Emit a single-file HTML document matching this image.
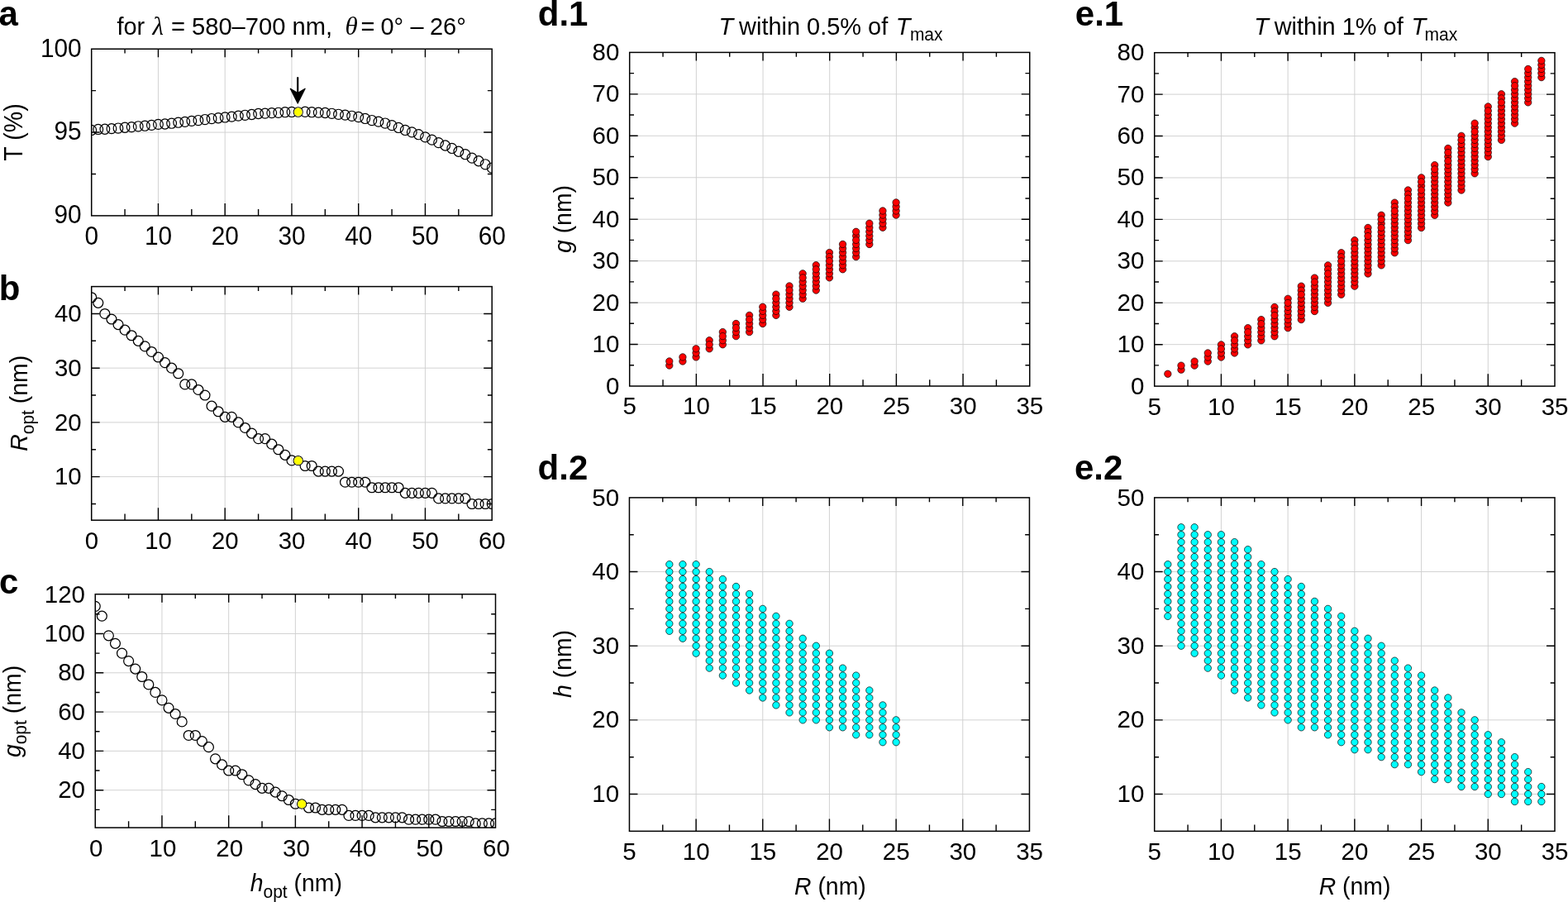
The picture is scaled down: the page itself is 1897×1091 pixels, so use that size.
<!DOCTYPE html>
<html lang="en">
<head>
<meta charset="utf-8">
<title>Figure</title>
<style>html,body{margin:0;padding:0;background:#fff}body{width:1897px;height:1091px;overflow:hidden}svg{display:block}</style>
</head>
<body>
<svg width="1897" height="1091" viewBox="0 0 1897 1091" font-family='"Liberation Sans", sans-serif' fill="#000">
<rect width="1897" height="1091" fill="#fff"/>
<defs>
<clipPath id="ca"><rect x="110.7" y="59.25" width="484.5" height="201.65"/></clipPath>
<clipPath id="cb"><rect x="110.7" y="346.6" width="484.5" height="282.6"/></clipPath>
<clipPath id="cc"><rect x="115.25" y="718.7" width="484.25" height="282.4"/></clipPath>
</defs>
<path d="M191.45 59.25V260.9M272.2 59.25V260.9M352.95 59.25V260.9M433.7 59.25V260.9M514.45 59.25V260.9M110.7 160.07H595.2" stroke="#d0d0d0" stroke-width="0.95" fill="none"/>
<g clip-path="url(#ca)">
<g fill="none" stroke="#000" stroke-width="1.2">
<ellipse cx="110.7" cy="157.45" rx="5.85" ry="6.05"/>
<ellipse cx="118.78" cy="156.45" rx="5.85" ry="6.05"/>
<ellipse cx="126.85" cy="156.24" rx="5.85" ry="6.05"/>
<ellipse cx="134.93" cy="155.64" rx="5.85" ry="6.05"/>
<ellipse cx="143" cy="155.03" rx="5.85" ry="6.05"/>
<ellipse cx="151.07" cy="154.23" rx="5.85" ry="6.05"/>
<ellipse cx="159.15" cy="153.62" rx="5.85" ry="6.05"/>
<ellipse cx="167.23" cy="152.82" rx="5.85" ry="6.05"/>
<ellipse cx="175.3" cy="152.21" rx="5.85" ry="6.05"/>
<ellipse cx="183.38" cy="151.4" rx="5.85" ry="6.05"/>
<ellipse cx="191.45" cy="150.4" rx="5.85" ry="6.05"/>
<ellipse cx="199.53" cy="149.99" rx="5.85" ry="6.05"/>
<ellipse cx="207.6" cy="149.19" rx="5.85" ry="6.05"/>
<ellipse cx="215.68" cy="148.18" rx="5.85" ry="6.05"/>
<ellipse cx="223.75" cy="147.37" rx="5.85" ry="6.05"/>
<ellipse cx="231.83" cy="146.36" rx="5.85" ry="6.05"/>
<ellipse cx="239.9" cy="145.56" rx="5.85" ry="6.05"/>
<ellipse cx="247.98" cy="144.55" rx="5.85" ry="6.05"/>
<ellipse cx="256.05" cy="143.54" rx="5.85" ry="6.05"/>
<ellipse cx="264.12" cy="142.73" rx="5.85" ry="6.05"/>
<ellipse cx="272.2" cy="141.93" rx="5.85" ry="6.05"/>
<ellipse cx="280.28" cy="141.12" rx="5.85" ry="6.05"/>
<ellipse cx="288.35" cy="140.11" rx="5.85" ry="6.05"/>
<ellipse cx="296.43" cy="139.31" rx="5.85" ry="6.05"/>
<ellipse cx="304.5" cy="138.5" rx="5.85" ry="6.05"/>
<ellipse cx="312.58" cy="137.49" rx="5.85" ry="6.05"/>
<ellipse cx="320.65" cy="137.09" rx="5.85" ry="6.05"/>
<ellipse cx="328.73" cy="136.58" rx="5.85" ry="6.05"/>
<ellipse cx="336.8" cy="136.28" rx="5.85" ry="6.05"/>
<ellipse cx="344.88" cy="135.68" rx="5.85" ry="6.05"/>
<ellipse cx="352.95" cy="135.47" rx="5.85" ry="6.05"/>
<ellipse cx="369.1" cy="135.27" rx="5.85" ry="6.05"/>
<ellipse cx="377.18" cy="135.68" rx="5.85" ry="6.05"/>
<ellipse cx="385.25" cy="136.08" rx="5.85" ry="6.05"/>
<ellipse cx="393.33" cy="136.48" rx="5.85" ry="6.05"/>
<ellipse cx="401.4" cy="137.29" rx="5.85" ry="6.05"/>
<ellipse cx="409.48" cy="138.3" rx="5.85" ry="6.05"/>
<ellipse cx="417.55" cy="139.1" rx="5.85" ry="6.05"/>
<ellipse cx="425.63" cy="140.31" rx="5.85" ry="6.05"/>
<ellipse cx="433.7" cy="141.52" rx="5.85" ry="6.05"/>
<ellipse cx="441.78" cy="143.44" rx="5.85" ry="6.05"/>
<ellipse cx="449.85" cy="145.56" rx="5.85" ry="6.05"/>
<ellipse cx="457.93" cy="147.17" rx="5.85" ry="6.05"/>
<ellipse cx="466" cy="149.06" rx="5.85" ry="6.05"/>
<ellipse cx="474.08" cy="151.61" rx="5.85" ry="6.05"/>
<ellipse cx="482.15" cy="154.43" rx="5.85" ry="6.05"/>
<ellipse cx="490.23" cy="157.45" rx="5.85" ry="6.05"/>
<ellipse cx="498.3" cy="159.87" rx="5.85" ry="6.05"/>
<ellipse cx="506.38" cy="162.7" rx="5.85" ry="6.05"/>
<ellipse cx="514.45" cy="165.92" rx="5.85" ry="6.05"/>
<ellipse cx="522.53" cy="169.15" rx="5.85" ry="6.05"/>
<ellipse cx="530.6" cy="172.58" rx="5.85" ry="6.05"/>
<ellipse cx="538.68" cy="176.01" rx="5.85" ry="6.05"/>
<ellipse cx="546.75" cy="179.43" rx="5.85" ry="6.05"/>
<ellipse cx="554.83" cy="183.26" rx="5.85" ry="6.05"/>
<ellipse cx="562.9" cy="186.69" rx="5.85" ry="6.05"/>
<ellipse cx="570.98" cy="191.13" rx="5.85" ry="6.05"/>
<ellipse cx="579.05" cy="194.76" rx="5.85" ry="6.05"/>
<ellipse cx="587.12" cy="198.79" rx="5.85" ry="6.05"/>
<ellipse cx="595.2" cy="203.03" rx="5.85" ry="6.05"/>
</g>
<ellipse cx="360.73" cy="135.52" rx="5.55" ry="5.75" fill="#fff" stroke="#000" stroke-width="1.05"/>
<ellipse cx="360.73" cy="135.52" rx="4.85" ry="5.05" fill="#ffff00"/>
</g>
<path d="M191.45 260.9v-14.9M191.45 59.25v10M272.2 260.9v-14.9M272.2 59.25v10M352.95 260.9v-14.9M352.95 59.25v10M433.7 260.9v-14.9M433.7 59.25v10M514.45 260.9v-14.9M514.45 59.25v10M151.07 260.9v-7.8M151.07 59.25v5.3M231.83 260.9v-7.8M231.83 59.25v5.3M312.58 260.9v-7.8M312.58 59.25v5.3M393.33 260.9v-7.8M393.33 59.25v5.3M474.08 260.9v-7.8M474.08 59.25v5.3M554.83 260.9v-7.8M554.83 59.25v5.3M110.7 160.07h10M595.2 160.07h-10M110.7 210.49h5.3M595.2 210.49h-5.3M110.7 109.66h5.3M595.2 109.66h-5.3" stroke="#000" stroke-width="1.4" fill="none"/>
<rect x="110.7" y="59.25" width="484.5" height="201.65" fill="none" stroke="#000" stroke-width="1.5"/>
<text transform="translate(110.8 295.8) scale(1 1.03)" text-anchor="middle" font-size="29.8">0</text>
<text transform="translate(191.55 295.8) scale(1 1.03)" text-anchor="middle" font-size="29.8">10</text>
<text transform="translate(272.3 295.8) scale(1 1.03)" text-anchor="middle" font-size="29.8">20</text>
<text transform="translate(353.05 295.8) scale(1 1.03)" text-anchor="middle" font-size="29.8">30</text>
<text transform="translate(433.8 295.8) scale(1 1.03)" text-anchor="middle" font-size="29.8">40</text>
<text transform="translate(514.55 295.8) scale(1 1.03)" text-anchor="middle" font-size="29.8">50</text>
<text transform="translate(595.3 295.8) scale(1 1.03)" text-anchor="middle" font-size="29.8">60</text>
<text transform="translate(98.7 270.2) scale(1 1.03)" text-anchor="end" font-size="29.8">90</text>
<text transform="translate(98.7 169.38) scale(1 1.03)" text-anchor="end" font-size="29.8">95</text>
<text transform="translate(98.7 68.55) scale(1 1.03)" text-anchor="end" font-size="29.8">100</text>
<path d="M191.45 346.6V629.2M272.2 346.6V629.2M352.95 346.6V629.2M433.7 346.6V629.2M514.45 346.6V629.2M110.7 576.62H595.2M110.7 510.9H595.2M110.7 445.18H595.2M110.7 379.46H595.2" stroke="#d0d0d0" stroke-width="0.95" fill="none"/>
<g clip-path="url(#cb)">
<g fill="none" stroke="#000" stroke-width="1.25">
<ellipse cx="110.7" cy="359.74" rx="5.95" ry="5.95"/>
<ellipse cx="118.78" cy="366.32" rx="5.95" ry="5.95"/>
<ellipse cx="126.85" cy="379.46" rx="5.95" ry="5.95"/>
<ellipse cx="134.93" cy="386.03" rx="5.95" ry="5.95"/>
<ellipse cx="143" cy="392.6" rx="5.95" ry="5.95"/>
<ellipse cx="151.07" cy="399.18" rx="5.95" ry="5.95"/>
<ellipse cx="159.15" cy="405.75" rx="5.95" ry="5.95"/>
<ellipse cx="167.23" cy="412.32" rx="5.95" ry="5.95"/>
<ellipse cx="175.3" cy="418.89" rx="5.95" ry="5.95"/>
<ellipse cx="183.38" cy="425.47" rx="5.95" ry="5.95"/>
<ellipse cx="191.45" cy="432.04" rx="5.95" ry="5.95"/>
<ellipse cx="199.53" cy="438.61" rx="5.95" ry="5.95"/>
<ellipse cx="207.6" cy="445.18" rx="5.95" ry="5.95"/>
<ellipse cx="215.68" cy="451.75" rx="5.95" ry="5.95"/>
<ellipse cx="223.75" cy="464.9" rx="5.95" ry="5.95"/>
<ellipse cx="231.83" cy="464.9" rx="5.95" ry="5.95"/>
<ellipse cx="239.9" cy="471.47" rx="5.95" ry="5.95"/>
<ellipse cx="247.98" cy="478.04" rx="5.95" ry="5.95"/>
<ellipse cx="256.05" cy="491.19" rx="5.95" ry="5.95"/>
<ellipse cx="264.12" cy="497.76" rx="5.95" ry="5.95"/>
<ellipse cx="272.2" cy="504.33" rx="5.95" ry="5.95"/>
<ellipse cx="280.28" cy="504.33" rx="5.95" ry="5.95"/>
<ellipse cx="288.35" cy="510.9" rx="5.95" ry="5.95"/>
<ellipse cx="296.43" cy="517.47" rx="5.95" ry="5.95"/>
<ellipse cx="304.5" cy="524.05" rx="5.95" ry="5.95"/>
<ellipse cx="312.58" cy="530.62" rx="5.95" ry="5.95"/>
<ellipse cx="320.65" cy="530.62" rx="5.95" ry="5.95"/>
<ellipse cx="328.73" cy="537.19" rx="5.95" ry="5.95"/>
<ellipse cx="336.8" cy="543.76" rx="5.95" ry="5.95"/>
<ellipse cx="344.88" cy="550.33" rx="5.95" ry="5.95"/>
<ellipse cx="352.95" cy="556.91" rx="5.95" ry="5.95"/>
<ellipse cx="369.1" cy="563.48" rx="5.95" ry="5.95"/>
<ellipse cx="377.18" cy="563.48" rx="5.95" ry="5.95"/>
<ellipse cx="385.25" cy="570.05" rx="5.95" ry="5.95"/>
<ellipse cx="393.33" cy="570.05" rx="5.95" ry="5.95"/>
<ellipse cx="401.4" cy="570.05" rx="5.95" ry="5.95"/>
<ellipse cx="409.48" cy="570.05" rx="5.95" ry="5.95"/>
<ellipse cx="417.55" cy="583.2" rx="5.95" ry="5.95"/>
<ellipse cx="425.63" cy="583.2" rx="5.95" ry="5.95"/>
<ellipse cx="433.7" cy="583.2" rx="5.95" ry="5.95"/>
<ellipse cx="441.78" cy="583.2" rx="5.95" ry="5.95"/>
<ellipse cx="449.85" cy="589.77" rx="5.95" ry="5.95"/>
<ellipse cx="457.93" cy="589.77" rx="5.95" ry="5.95"/>
<ellipse cx="466" cy="589.77" rx="5.95" ry="5.95"/>
<ellipse cx="474.08" cy="589.77" rx="5.95" ry="5.95"/>
<ellipse cx="482.15" cy="589.77" rx="5.95" ry="5.95"/>
<ellipse cx="490.23" cy="596.34" rx="5.95" ry="5.95"/>
<ellipse cx="498.3" cy="596.34" rx="5.95" ry="5.95"/>
<ellipse cx="506.38" cy="596.34" rx="5.95" ry="5.95"/>
<ellipse cx="514.45" cy="596.34" rx="5.95" ry="5.95"/>
<ellipse cx="522.53" cy="596.34" rx="5.95" ry="5.95"/>
<ellipse cx="530.6" cy="602.91" rx="5.95" ry="5.95"/>
<ellipse cx="538.68" cy="602.91" rx="5.95" ry="5.95"/>
<ellipse cx="546.75" cy="602.91" rx="5.95" ry="5.95"/>
<ellipse cx="554.83" cy="602.91" rx="5.95" ry="5.95"/>
<ellipse cx="562.9" cy="602.91" rx="5.95" ry="5.95"/>
<ellipse cx="570.98" cy="609.48" rx="5.95" ry="5.95"/>
<ellipse cx="579.05" cy="609.48" rx="5.95" ry="5.95"/>
<ellipse cx="587.12" cy="609.48" rx="5.95" ry="5.95"/>
<ellipse cx="595.2" cy="609.48" rx="5.95" ry="5.95"/>
</g>
<ellipse cx="360.73" cy="557.16" rx="5.65" ry="5.65" fill="#fff" stroke="#000" stroke-width="1.05"/>
<ellipse cx="360.73" cy="557.16" rx="4.95" ry="4.95" fill="#ffff00"/>
</g>
<path d="M191.45 629.2v-14.9M191.45 346.6v10M272.2 629.2v-14.9M272.2 346.6v10M352.95 629.2v-14.9M352.95 346.6v10M433.7 629.2v-14.9M433.7 346.6v10M514.45 629.2v-14.9M514.45 346.6v10M151.07 629.2v-7.8M151.07 346.6v5.3M231.83 629.2v-7.8M231.83 346.6v5.3M312.58 629.2v-7.8M312.58 346.6v5.3M393.33 629.2v-7.8M393.33 346.6v5.3M474.08 629.2v-7.8M474.08 346.6v5.3M554.83 629.2v-7.8M554.83 346.6v5.3M110.7 576.62h10M595.2 576.62h-10M110.7 510.9h10M595.2 510.9h-10M110.7 445.18h10M595.2 445.18h-10M110.7 379.46h10M595.2 379.46h-10M110.7 609.48h5.3M595.2 609.48h-5.3M110.7 543.76h5.3M595.2 543.76h-5.3M110.7 478.04h5.3M595.2 478.04h-5.3M110.7 412.32h5.3M595.2 412.32h-5.3" stroke="#000" stroke-width="1.4" fill="none"/>
<rect x="110.7" y="346.6" width="484.5" height="282.6" fill="none" stroke="#000" stroke-width="1.5"/>
<text transform="translate(110.8 663.6) scale(1 1.035)" text-anchor="middle" font-size="29.4">0</text>
<text transform="translate(191.55 663.6) scale(1 1.035)" text-anchor="middle" font-size="29.4">10</text>
<text transform="translate(272.3 663.6) scale(1 1.035)" text-anchor="middle" font-size="29.4">20</text>
<text transform="translate(353.05 663.6) scale(1 1.035)" text-anchor="middle" font-size="29.4">30</text>
<text transform="translate(433.8 663.6) scale(1 1.035)" text-anchor="middle" font-size="29.4">40</text>
<text transform="translate(514.55 663.6) scale(1 1.035)" text-anchor="middle" font-size="29.4">50</text>
<text transform="translate(595.3 663.6) scale(1 1.035)" text-anchor="middle" font-size="29.4">60</text>
<text transform="translate(98.7 586.22) scale(1 1.035)" text-anchor="end" font-size="29.4">10</text>
<text transform="translate(98.7 520.5) scale(1 1.035)" text-anchor="end" font-size="29.4">20</text>
<text transform="translate(98.7 454.78) scale(1 1.035)" text-anchor="end" font-size="29.4">30</text>
<text transform="translate(98.7 389.06) scale(1 1.035)" text-anchor="end" font-size="29.4">40</text>
<path d="M195.96 718.7V1001.1M276.67 718.7V1001.1M357.38 718.7V1001.1M438.08 718.7V1001.1M518.79 718.7V1001.1M115.25 955.69H599.5M115.25 908.39H599.5M115.25 861.08H599.5M115.25 813.78H599.5M115.25 766.48H599.5" stroke="#d0d0d0" stroke-width="0.95" fill="none"/>
<g clip-path="url(#cc)">
<g fill="none" stroke="#000" stroke-width="1.25">
<ellipse cx="115.25" cy="733.36" rx="5.95" ry="5.95"/>
<ellipse cx="123.32" cy="745.19" rx="5.95" ry="5.95"/>
<ellipse cx="131.39" cy="768.84" rx="5.95" ry="5.95"/>
<ellipse cx="139.46" cy="778.3" rx="5.95" ry="5.95"/>
<ellipse cx="147.53" cy="790.13" rx="5.95" ry="5.95"/>
<ellipse cx="155.6" cy="799.59" rx="5.95" ry="5.95"/>
<ellipse cx="163.68" cy="809.05" rx="5.95" ry="5.95"/>
<ellipse cx="171.75" cy="818.51" rx="5.95" ry="5.95"/>
<ellipse cx="179.82" cy="827.97" rx="5.95" ry="5.95"/>
<ellipse cx="187.89" cy="837.43" rx="5.95" ry="5.95"/>
<ellipse cx="195.96" cy="846.89" rx="5.95" ry="5.95"/>
<ellipse cx="204.03" cy="856.35" rx="5.95" ry="5.95"/>
<ellipse cx="212.1" cy="863.45" rx="5.95" ry="5.95"/>
<ellipse cx="220.17" cy="872.91" rx="5.95" ry="5.95"/>
<ellipse cx="228.24" cy="889.46" rx="5.95" ry="5.95"/>
<ellipse cx="236.31" cy="889.46" rx="5.95" ry="5.95"/>
<ellipse cx="244.38" cy="896.56" rx="5.95" ry="5.95"/>
<ellipse cx="252.45" cy="903.66" rx="5.95" ry="5.95"/>
<ellipse cx="260.52" cy="917.85" rx="5.95" ry="5.95"/>
<ellipse cx="268.6" cy="924.94" rx="5.95" ry="5.95"/>
<ellipse cx="276.67" cy="932.04" rx="5.95" ry="5.95"/>
<ellipse cx="284.74" cy="932.04" rx="5.95" ry="5.95"/>
<ellipse cx="292.81" cy="936.77" rx="5.95" ry="5.95"/>
<ellipse cx="300.88" cy="943.86" rx="5.95" ry="5.95"/>
<ellipse cx="308.95" cy="948.59" rx="5.95" ry="5.95"/>
<ellipse cx="317.02" cy="953.32" rx="5.95" ry="5.95"/>
<ellipse cx="325.09" cy="953.32" rx="5.95" ry="5.95"/>
<ellipse cx="333.16" cy="958.05" rx="5.95" ry="5.95"/>
<ellipse cx="341.23" cy="962.78" rx="5.95" ry="5.95"/>
<ellipse cx="349.3" cy="967.51" rx="5.95" ry="5.95"/>
<ellipse cx="357.38" cy="972.25" rx="5.95" ry="5.95"/>
<ellipse cx="373.52" cy="976.98" rx="5.95" ry="5.95"/>
<ellipse cx="381.59" cy="976.98" rx="5.95" ry="5.95"/>
<ellipse cx="389.66" cy="979.34" rx="5.95" ry="5.95"/>
<ellipse cx="397.73" cy="979.34" rx="5.95" ry="5.95"/>
<ellipse cx="405.8" cy="979.34" rx="5.95" ry="5.95"/>
<ellipse cx="413.87" cy="979.34" rx="5.95" ry="5.95"/>
<ellipse cx="421.94" cy="986.44" rx="5.95" ry="5.95"/>
<ellipse cx="430.01" cy="986.44" rx="5.95" ry="5.95"/>
<ellipse cx="438.08" cy="986.44" rx="5.95" ry="5.95"/>
<ellipse cx="446.15" cy="986.44" rx="5.95" ry="5.95"/>
<ellipse cx="454.22" cy="988.8" rx="5.95" ry="5.95"/>
<ellipse cx="462.3" cy="988.8" rx="5.95" ry="5.95"/>
<ellipse cx="470.37" cy="988.8" rx="5.95" ry="5.95"/>
<ellipse cx="478.44" cy="988.8" rx="5.95" ry="5.95"/>
<ellipse cx="486.51" cy="988.8" rx="5.95" ry="5.95"/>
<ellipse cx="494.58" cy="991.17" rx="5.95" ry="5.95"/>
<ellipse cx="502.65" cy="991.17" rx="5.95" ry="5.95"/>
<ellipse cx="510.72" cy="991.17" rx="5.95" ry="5.95"/>
<ellipse cx="518.79" cy="991.17" rx="5.95" ry="5.95"/>
<ellipse cx="526.86" cy="991.17" rx="5.95" ry="5.95"/>
<ellipse cx="534.93" cy="993.53" rx="5.95" ry="5.95"/>
<ellipse cx="543" cy="993.53" rx="5.95" ry="5.95"/>
<ellipse cx="551.08" cy="993.53" rx="5.95" ry="5.95"/>
<ellipse cx="559.15" cy="993.53" rx="5.95" ry="5.95"/>
<ellipse cx="567.22" cy="993.53" rx="5.95" ry="5.95"/>
<ellipse cx="575.29" cy="995.9" rx="5.95" ry="5.95"/>
<ellipse cx="583.36" cy="995.9" rx="5.95" ry="5.95"/>
<ellipse cx="591.43" cy="995.9" rx="5.95" ry="5.95"/>
<ellipse cx="599.5" cy="995.9" rx="5.95" ry="5.95"/>
</g>
<ellipse cx="365.15" cy="972.5" rx="5.65" ry="5.65" fill="#fff" stroke="#000" stroke-width="1.05"/>
<ellipse cx="365.15" cy="972.5" rx="4.95" ry="4.95" fill="#ffff00"/>
</g>
<path d="M195.96 1001.1v-14.9M195.96 718.7v10M276.67 1001.1v-14.9M276.67 718.7v10M357.38 1001.1v-14.9M357.38 718.7v10M438.08 1001.1v-14.9M438.08 718.7v10M518.79 1001.1v-14.9M518.79 718.7v10M155.6 1001.1v-7.8M155.6 718.7v5.3M236.31 1001.1v-7.8M236.31 718.7v5.3M317.02 1001.1v-7.8M317.02 718.7v5.3M397.73 1001.1v-7.8M397.73 718.7v5.3M478.44 1001.1v-7.8M478.44 718.7v5.3M559.15 1001.1v-7.8M559.15 718.7v5.3M115.25 955.69h10M599.5 955.69h-10M115.25 908.39h10M599.5 908.39h-10M115.25 861.08h10M599.5 861.08h-10M115.25 813.78h10M599.5 813.78h-10M115.25 766.48h10M599.5 766.48h-10M115.25 979.34h5.3M599.5 979.34h-5.3M115.25 932.04h5.3M599.5 932.04h-5.3M115.25 884.73h5.3M599.5 884.73h-5.3M115.25 837.43h5.3M599.5 837.43h-5.3M115.25 790.13h5.3M599.5 790.13h-5.3M115.25 742.82h5.3M599.5 742.82h-5.3" stroke="#000" stroke-width="1.4" fill="none"/>
<rect x="115.25" y="718.7" width="484.25" height="282.4" fill="none" stroke="#000" stroke-width="1.5"/>
<text transform="translate(116.25 1035.7) scale(1 1.02)" text-anchor="middle" font-size="29.5">0</text>
<text transform="translate(196.96 1035.7) scale(1 1.02)" text-anchor="middle" font-size="29.5">10</text>
<text transform="translate(277.67 1035.7) scale(1 1.02)" text-anchor="middle" font-size="29.5">20</text>
<text transform="translate(358.38 1035.7) scale(1 1.02)" text-anchor="middle" font-size="29.5">30</text>
<text transform="translate(439.08 1035.7) scale(1 1.02)" text-anchor="middle" font-size="29.5">40</text>
<text transform="translate(519.79 1035.7) scale(1 1.02)" text-anchor="middle" font-size="29.5">50</text>
<text transform="translate(600.5 1035.7) scale(1 1.02)" text-anchor="middle" font-size="29.5">60</text>
<text transform="translate(102.95 965.29) scale(1 1.02)" text-anchor="end" font-size="29.5">20</text>
<text transform="translate(102.95 917.99) scale(1 1.02)" text-anchor="end" font-size="29.5">40</text>
<text transform="translate(102.95 870.68) scale(1 1.02)" text-anchor="end" font-size="29.5">60</text>
<text transform="translate(102.95 823.38) scale(1 1.02)" text-anchor="end" font-size="29.5">80</text>
<text transform="translate(102.95 776.08) scale(1 1.02)" text-anchor="end" font-size="29.5">100</text>
<text transform="translate(102.95 728.77) scale(1 1.02)" text-anchor="end" font-size="29.5">120</text>
<path d="M842.38 63.4V467M923.05 63.4V467M1003.73 63.4V467M1084.4 63.4V467M1165.08 63.4V467M761.7 416.55H1245.75M761.7 366.1H1245.75M761.7 315.65H1245.75M761.7 265.2H1245.75M761.7 214.75H1245.75M761.7 164.3H1245.75M761.7 113.85H1245.75" stroke="#d0d0d0" stroke-width="0.95" fill="none"/>
<g fill="#ff0000" stroke="#000" stroke-width="0.7">
<circle cx="809.81" cy="442.03" r="4.18"/>
<circle cx="809.81" cy="436.98" r="4.18"/>
<circle cx="825.94" cy="436.98" r="4.18"/>
<circle cx="825.94" cy="431.92" r="4.18"/>
<circle cx="842.08" cy="431.92" r="4.18"/>
<circle cx="842.08" cy="426.87" r="4.18"/>
<circle cx="842.08" cy="421.81" r="4.18"/>
<circle cx="858.21" cy="421.81" r="4.18"/>
<circle cx="858.21" cy="411.71" r="4.18"/>
<circle cx="858.21" cy="416.76" r="4.18"/>
<circle cx="874.35" cy="416.76" r="4.18"/>
<circle cx="874.35" cy="411.71" r="4.18"/>
<circle cx="874.35" cy="401.6" r="4.18"/>
<circle cx="874.35" cy="406.65" r="4.18"/>
<circle cx="890.48" cy="406.65" r="4.18"/>
<circle cx="890.48" cy="401.6" r="4.18"/>
<circle cx="890.48" cy="391.49" r="4.18"/>
<circle cx="890.48" cy="396.54" r="4.18"/>
<circle cx="906.62" cy="401.6" r="4.18"/>
<circle cx="906.62" cy="396.54" r="4.18"/>
<circle cx="906.62" cy="391.49" r="4.18"/>
<circle cx="906.62" cy="381.38" r="4.18"/>
<circle cx="906.62" cy="386.44" r="4.18"/>
<circle cx="922.75" cy="391.49" r="4.18"/>
<circle cx="922.75" cy="386.44" r="4.18"/>
<circle cx="922.75" cy="381.38" r="4.18"/>
<circle cx="922.75" cy="376.33" r="4.18"/>
<circle cx="922.75" cy="371.27" r="4.18"/>
<circle cx="938.88" cy="381.38" r="4.18"/>
<circle cx="938.88" cy="376.33" r="4.18"/>
<circle cx="938.88" cy="371.27" r="4.18"/>
<circle cx="938.88" cy="366.22" r="4.18"/>
<circle cx="938.88" cy="356.11" r="4.18"/>
<circle cx="938.88" cy="361.17" r="4.18"/>
<circle cx="955.02" cy="371.27" r="4.18"/>
<circle cx="955.02" cy="366.22" r="4.18"/>
<circle cx="955.02" cy="361.17" r="4.18"/>
<circle cx="955.02" cy="356.11" r="4.18"/>
<circle cx="955.02" cy="346" r="4.18"/>
<circle cx="955.02" cy="351.06" r="4.18"/>
<circle cx="971.16" cy="361.17" r="4.18"/>
<circle cx="971.16" cy="356.11" r="4.18"/>
<circle cx="971.16" cy="351.06" r="4.18"/>
<circle cx="971.16" cy="346" r="4.18"/>
<circle cx="971.16" cy="340.95" r="4.18"/>
<circle cx="971.16" cy="330.84" r="4.18"/>
<circle cx="971.16" cy="335.9" r="4.18"/>
<circle cx="987.29" cy="351.06" r="4.18"/>
<circle cx="987.29" cy="346" r="4.18"/>
<circle cx="987.29" cy="340.95" r="4.18"/>
<circle cx="987.29" cy="335.9" r="4.18"/>
<circle cx="987.29" cy="330.84" r="4.18"/>
<circle cx="987.29" cy="320.73" r="4.18"/>
<circle cx="987.29" cy="325.79" r="4.18"/>
<circle cx="1003.43" cy="335.9" r="4.18"/>
<circle cx="1003.43" cy="330.84" r="4.18"/>
<circle cx="1003.43" cy="325.79" r="4.18"/>
<circle cx="1003.43" cy="305.57" r="4.18"/>
<circle cx="1003.43" cy="320.73" r="4.18"/>
<circle cx="1003.43" cy="310.63" r="4.18"/>
<circle cx="1003.43" cy="315.68" r="4.18"/>
<circle cx="1019.56" cy="325.79" r="4.18"/>
<circle cx="1019.56" cy="320.73" r="4.18"/>
<circle cx="1019.56" cy="315.68" r="4.18"/>
<circle cx="1019.56" cy="310.63" r="4.18"/>
<circle cx="1019.56" cy="305.57" r="4.18"/>
<circle cx="1019.56" cy="300.52" r="4.18"/>
<circle cx="1019.56" cy="295.46" r="4.18"/>
<circle cx="1035.69" cy="310.63" r="4.18"/>
<circle cx="1035.69" cy="305.57" r="4.18"/>
<circle cx="1035.69" cy="300.52" r="4.18"/>
<circle cx="1035.69" cy="295.46" r="4.18"/>
<circle cx="1035.69" cy="285.36" r="4.18"/>
<circle cx="1035.69" cy="290.41" r="4.18"/>
<circle cx="1035.69" cy="280.3" r="4.18"/>
<circle cx="1051.83" cy="295.46" r="4.18"/>
<circle cx="1051.83" cy="290.41" r="4.18"/>
<circle cx="1051.83" cy="285.36" r="4.18"/>
<circle cx="1051.83" cy="280.3" r="4.18"/>
<circle cx="1051.83" cy="275.25" r="4.18"/>
<circle cx="1051.83" cy="270.19" r="4.18"/>
<circle cx="1067.96" cy="275.25" r="4.18"/>
<circle cx="1067.96" cy="270.19" r="4.18"/>
<circle cx="1067.96" cy="265.14" r="4.18"/>
<circle cx="1067.96" cy="260.09" r="4.18"/>
<circle cx="1067.96" cy="255.03" r="4.18"/>
<circle cx="1084.1" cy="260.09" r="4.18"/>
<circle cx="1084.1" cy="255.03" r="4.18"/>
<circle cx="1084.1" cy="249.98" r="4.18"/>
<circle cx="1084.1" cy="244.92" r="4.18"/>
</g>
<path d="M842.38 467v-14.9M842.38 63.4v10M923.05 467v-14.9M923.05 63.4v10M1003.73 467v-14.9M1003.73 63.4v10M1084.4 467v-14.9M1084.4 63.4v10M1165.08 467v-14.9M1165.08 63.4v10M802.04 467v-7.8M802.04 63.4v5.3M882.71 467v-7.8M882.71 63.4v5.3M963.39 467v-7.8M963.39 63.4v5.3M1044.06 467v-7.8M1044.06 63.4v5.3M1124.74 467v-7.8M1124.74 63.4v5.3M1205.41 467v-7.8M1205.41 63.4v5.3M761.7 416.55h10M1245.75 416.55h-10M761.7 366.1h10M1245.75 366.1h-10M761.7 315.65h10M1245.75 315.65h-10M761.7 265.2h10M1245.75 265.2h-10M761.7 214.75h10M1245.75 214.75h-10M761.7 164.3h10M1245.75 164.3h-10M761.7 113.85h10M1245.75 113.85h-10M761.7 441.77h5.3M1245.75 441.77h-5.3M761.7 391.32h5.3M1245.75 391.32h-5.3M761.7 340.88h5.3M1245.75 340.88h-5.3M761.7 290.42h5.3M1245.75 290.42h-5.3M761.7 239.97h5.3M1245.75 239.97h-5.3M761.7 189.52h5.3M1245.75 189.52h-5.3M761.7 139.07h5.3M1245.75 139.07h-5.3M761.7 88.62h5.3M1245.75 88.62h-5.3" stroke="#000" stroke-width="1.4" fill="none"/>
<rect x="761.7" y="63.4" width="484.05" height="403.6" fill="none" stroke="#000" stroke-width="1.5"/>
<text transform="translate(761.8 501.45) scale(1 1.03)" text-anchor="middle" font-size="29.5">5</text>
<text transform="translate(842.48 501.45) scale(1 1.03)" text-anchor="middle" font-size="29.5">10</text>
<text transform="translate(923.15 501.45) scale(1 1.03)" text-anchor="middle" font-size="29.5">15</text>
<text transform="translate(1003.83 501.45) scale(1 1.03)" text-anchor="middle" font-size="29.5">20</text>
<text transform="translate(1084.5 501.45) scale(1 1.03)" text-anchor="middle" font-size="29.5">25</text>
<text transform="translate(1165.17 501.45) scale(1 1.03)" text-anchor="middle" font-size="29.5">30</text>
<text transform="translate(1245.85 501.45) scale(1 1.03)" text-anchor="middle" font-size="29.5">35</text>
<text transform="translate(749.3 476.5) scale(1 1.03)" text-anchor="end" font-size="29.5">0</text>
<text transform="translate(749.3 426.05) scale(1 1.03)" text-anchor="end" font-size="29.5">10</text>
<text transform="translate(749.3 375.6) scale(1 1.03)" text-anchor="end" font-size="29.5">20</text>
<text transform="translate(749.3 325.15) scale(1 1.03)" text-anchor="end" font-size="29.5">30</text>
<text transform="translate(749.3 274.7) scale(1 1.03)" text-anchor="end" font-size="29.5">40</text>
<text transform="translate(749.3 224.25) scale(1 1.03)" text-anchor="end" font-size="29.5">50</text>
<text transform="translate(749.3 173.8) scale(1 1.03)" text-anchor="end" font-size="29.5">60</text>
<text transform="translate(749.3 123.35) scale(1 1.03)" text-anchor="end" font-size="29.5">70</text>
<text transform="translate(749.3 72.9) scale(1 1.03)" text-anchor="end" font-size="29.5">80</text>
<path d="M1477.42 63.7V467.1M1558.13 63.7V467.1M1638.85 63.7V467.1M1719.57 63.7V467.1M1800.28 63.7V467.1M1396.7 416.68H1881M1396.7 366.25H1881M1396.7 315.83H1881M1396.7 265.4H1881M1396.7 214.97H1881M1396.7 164.55H1881M1396.7 114.12H1881" stroke="#d0d0d0" stroke-width="0.95" fill="none"/>
<g fill="#ff0000" stroke="#000" stroke-width="0.7">
<circle cx="1412.84" cy="452.25" r="4.18"/>
<circle cx="1428.99" cy="447.19" r="4.18"/>
<circle cx="1428.99" cy="442.14" r="4.18"/>
<circle cx="1445.13" cy="442.14" r="4.18"/>
<circle cx="1445.13" cy="437.09" r="4.18"/>
<circle cx="1461.27" cy="437.09" r="4.18"/>
<circle cx="1461.27" cy="432.04" r="4.18"/>
<circle cx="1461.27" cy="426.99" r="4.18"/>
<circle cx="1477.42" cy="432.04" r="4.18"/>
<circle cx="1477.42" cy="426.99" r="4.18"/>
<circle cx="1477.42" cy="416.89" r="4.18"/>
<circle cx="1477.42" cy="421.94" r="4.18"/>
<circle cx="1493.56" cy="426.99" r="4.18"/>
<circle cx="1493.56" cy="421.94" r="4.18"/>
<circle cx="1493.56" cy="416.89" r="4.18"/>
<circle cx="1493.56" cy="406.78" r="4.18"/>
<circle cx="1493.56" cy="411.83" r="4.18"/>
<circle cx="1509.7" cy="416.89" r="4.18"/>
<circle cx="1509.7" cy="411.83" r="4.18"/>
<circle cx="1509.7" cy="406.78" r="4.18"/>
<circle cx="1509.7" cy="396.68" r="4.18"/>
<circle cx="1509.7" cy="401.73" r="4.18"/>
<circle cx="1525.85" cy="411.83" r="4.18"/>
<circle cx="1525.85" cy="406.78" r="4.18"/>
<circle cx="1525.85" cy="401.73" r="4.18"/>
<circle cx="1525.85" cy="396.68" r="4.18"/>
<circle cx="1525.85" cy="386.58" r="4.18"/>
<circle cx="1525.85" cy="391.63" r="4.18"/>
<circle cx="1541.99" cy="406.78" r="4.18"/>
<circle cx="1541.99" cy="401.73" r="4.18"/>
<circle cx="1541.99" cy="396.68" r="4.18"/>
<circle cx="1541.99" cy="391.63" r="4.18"/>
<circle cx="1541.99" cy="371.42" r="4.18"/>
<circle cx="1541.99" cy="386.58" r="4.18"/>
<circle cx="1541.99" cy="376.47" r="4.18"/>
<circle cx="1541.99" cy="381.52" r="4.18"/>
<circle cx="1558.13" cy="396.68" r="4.18"/>
<circle cx="1558.13" cy="391.63" r="4.18"/>
<circle cx="1558.13" cy="386.58" r="4.18"/>
<circle cx="1558.13" cy="381.52" r="4.18"/>
<circle cx="1558.13" cy="376.47" r="4.18"/>
<circle cx="1558.13" cy="371.42" r="4.18"/>
<circle cx="1558.13" cy="361.32" r="4.18"/>
<circle cx="1558.13" cy="366.37" r="4.18"/>
<circle cx="1574.28" cy="386.58" r="4.18"/>
<circle cx="1574.28" cy="381.52" r="4.18"/>
<circle cx="1574.28" cy="376.47" r="4.18"/>
<circle cx="1574.28" cy="371.42" r="4.18"/>
<circle cx="1574.28" cy="366.37" r="4.18"/>
<circle cx="1574.28" cy="346.16" r="4.18"/>
<circle cx="1574.28" cy="361.32" r="4.18"/>
<circle cx="1574.28" cy="351.22" r="4.18"/>
<circle cx="1574.28" cy="356.27" r="4.18"/>
<circle cx="1590.42" cy="376.47" r="4.18"/>
<circle cx="1590.42" cy="371.42" r="4.18"/>
<circle cx="1590.42" cy="366.37" r="4.18"/>
<circle cx="1590.42" cy="361.32" r="4.18"/>
<circle cx="1590.42" cy="356.27" r="4.18"/>
<circle cx="1590.42" cy="351.22" r="4.18"/>
<circle cx="1590.42" cy="346.16" r="4.18"/>
<circle cx="1590.42" cy="336.06" r="4.18"/>
<circle cx="1590.42" cy="341.11" r="4.18"/>
<circle cx="1606.56" cy="366.37" r="4.18"/>
<circle cx="1606.56" cy="361.32" r="4.18"/>
<circle cx="1606.56" cy="356.27" r="4.18"/>
<circle cx="1606.56" cy="351.22" r="4.18"/>
<circle cx="1606.56" cy="346.16" r="4.18"/>
<circle cx="1606.56" cy="341.11" r="4.18"/>
<circle cx="1606.56" cy="320.91" r="4.18"/>
<circle cx="1606.56" cy="336.06" r="4.18"/>
<circle cx="1606.56" cy="325.96" r="4.18"/>
<circle cx="1606.56" cy="331.01" r="4.18"/>
<circle cx="1622.71" cy="356.27" r="4.18"/>
<circle cx="1622.71" cy="351.22" r="4.18"/>
<circle cx="1622.71" cy="346.16" r="4.18"/>
<circle cx="1622.71" cy="341.11" r="4.18"/>
<circle cx="1622.71" cy="336.06" r="4.18"/>
<circle cx="1622.71" cy="331.01" r="4.18"/>
<circle cx="1622.71" cy="325.96" r="4.18"/>
<circle cx="1622.71" cy="305.75" r="4.18"/>
<circle cx="1622.71" cy="320.91" r="4.18"/>
<circle cx="1622.71" cy="310.8" r="4.18"/>
<circle cx="1622.71" cy="315.86" r="4.18"/>
<circle cx="1638.85" cy="346.16" r="4.18"/>
<circle cx="1638.85" cy="341.11" r="4.18"/>
<circle cx="1638.85" cy="336.06" r="4.18"/>
<circle cx="1638.85" cy="331.01" r="4.18"/>
<circle cx="1638.85" cy="325.96" r="4.18"/>
<circle cx="1638.85" cy="320.91" r="4.18"/>
<circle cx="1638.85" cy="315.86" r="4.18"/>
<circle cx="1638.85" cy="310.8" r="4.18"/>
<circle cx="1638.85" cy="290.6" r="4.18"/>
<circle cx="1638.85" cy="305.75" r="4.18"/>
<circle cx="1638.85" cy="295.65" r="4.18"/>
<circle cx="1638.85" cy="300.7" r="4.18"/>
<circle cx="1654.99" cy="331.01" r="4.18"/>
<circle cx="1654.99" cy="325.96" r="4.18"/>
<circle cx="1654.99" cy="320.91" r="4.18"/>
<circle cx="1654.99" cy="315.86" r="4.18"/>
<circle cx="1654.99" cy="310.8" r="4.18"/>
<circle cx="1654.99" cy="305.75" r="4.18"/>
<circle cx="1654.99" cy="300.7" r="4.18"/>
<circle cx="1654.99" cy="295.65" r="4.18"/>
<circle cx="1654.99" cy="275.44" r="4.18"/>
<circle cx="1654.99" cy="290.6" r="4.18"/>
<circle cx="1654.99" cy="280.49" r="4.18"/>
<circle cx="1654.99" cy="285.55" r="4.18"/>
<circle cx="1671.14" cy="320.91" r="4.18"/>
<circle cx="1671.14" cy="315.86" r="4.18"/>
<circle cx="1671.14" cy="310.8" r="4.18"/>
<circle cx="1671.14" cy="305.75" r="4.18"/>
<circle cx="1671.14" cy="300.7" r="4.18"/>
<circle cx="1671.14" cy="295.65" r="4.18"/>
<circle cx="1671.14" cy="290.6" r="4.18"/>
<circle cx="1671.14" cy="285.55" r="4.18"/>
<circle cx="1671.14" cy="280.49" r="4.18"/>
<circle cx="1671.14" cy="270.39" r="4.18"/>
<circle cx="1671.14" cy="260.29" r="4.18"/>
<circle cx="1671.14" cy="275.44" r="4.18"/>
<circle cx="1671.14" cy="265.34" r="4.18"/>
<circle cx="1687.28" cy="305.75" r="4.18"/>
<circle cx="1687.28" cy="300.7" r="4.18"/>
<circle cx="1687.28" cy="295.65" r="4.18"/>
<circle cx="1687.28" cy="290.6" r="4.18"/>
<circle cx="1687.28" cy="285.55" r="4.18"/>
<circle cx="1687.28" cy="280.49" r="4.18"/>
<circle cx="1687.28" cy="275.44" r="4.18"/>
<circle cx="1687.28" cy="270.39" r="4.18"/>
<circle cx="1687.28" cy="265.34" r="4.18"/>
<circle cx="1687.28" cy="245.13" r="4.18"/>
<circle cx="1687.28" cy="260.29" r="4.18"/>
<circle cx="1687.28" cy="250.19" r="4.18"/>
<circle cx="1687.28" cy="255.24" r="4.18"/>
<circle cx="1703.42" cy="290.6" r="4.18"/>
<circle cx="1703.42" cy="285.55" r="4.18"/>
<circle cx="1703.42" cy="280.49" r="4.18"/>
<circle cx="1703.42" cy="275.44" r="4.18"/>
<circle cx="1703.42" cy="270.39" r="4.18"/>
<circle cx="1703.42" cy="265.34" r="4.18"/>
<circle cx="1703.42" cy="260.29" r="4.18"/>
<circle cx="1703.42" cy="255.24" r="4.18"/>
<circle cx="1703.42" cy="250.19" r="4.18"/>
<circle cx="1703.42" cy="229.98" r="4.18"/>
<circle cx="1703.42" cy="245.13" r="4.18"/>
<circle cx="1703.42" cy="235.03" r="4.18"/>
<circle cx="1703.42" cy="240.08" r="4.18"/>
<circle cx="1719.57" cy="275.44" r="4.18"/>
<circle cx="1719.57" cy="270.39" r="4.18"/>
<circle cx="1719.57" cy="265.34" r="4.18"/>
<circle cx="1719.57" cy="260.29" r="4.18"/>
<circle cx="1719.57" cy="255.24" r="4.18"/>
<circle cx="1719.57" cy="250.19" r="4.18"/>
<circle cx="1719.57" cy="245.13" r="4.18"/>
<circle cx="1719.57" cy="240.08" r="4.18"/>
<circle cx="1719.57" cy="235.03" r="4.18"/>
<circle cx="1719.57" cy="224.93" r="4.18"/>
<circle cx="1719.57" cy="214.83" r="4.18"/>
<circle cx="1719.57" cy="229.98" r="4.18"/>
<circle cx="1719.57" cy="219.88" r="4.18"/>
<circle cx="1735.71" cy="260.29" r="4.18"/>
<circle cx="1735.71" cy="255.24" r="4.18"/>
<circle cx="1735.71" cy="250.19" r="4.18"/>
<circle cx="1735.71" cy="245.13" r="4.18"/>
<circle cx="1735.71" cy="240.08" r="4.18"/>
<circle cx="1735.71" cy="235.03" r="4.18"/>
<circle cx="1735.71" cy="229.98" r="4.18"/>
<circle cx="1735.71" cy="224.93" r="4.18"/>
<circle cx="1735.71" cy="219.88" r="4.18"/>
<circle cx="1735.71" cy="214.83" r="4.18"/>
<circle cx="1735.71" cy="209.77" r="4.18"/>
<circle cx="1735.71" cy="199.67" r="4.18"/>
<circle cx="1735.71" cy="204.72" r="4.18"/>
<circle cx="1751.85" cy="245.13" r="4.18"/>
<circle cx="1751.85" cy="240.08" r="4.18"/>
<circle cx="1751.85" cy="235.03" r="4.18"/>
<circle cx="1751.85" cy="229.98" r="4.18"/>
<circle cx="1751.85" cy="224.93" r="4.18"/>
<circle cx="1751.85" cy="219.88" r="4.18"/>
<circle cx="1751.85" cy="214.83" r="4.18"/>
<circle cx="1751.85" cy="209.77" r="4.18"/>
<circle cx="1751.85" cy="204.72" r="4.18"/>
<circle cx="1751.85" cy="199.67" r="4.18"/>
<circle cx="1751.85" cy="189.57" r="4.18"/>
<circle cx="1751.85" cy="179.46" r="4.18"/>
<circle cx="1751.85" cy="194.62" r="4.18"/>
<circle cx="1751.85" cy="184.52" r="4.18"/>
<circle cx="1768" cy="229.98" r="4.18"/>
<circle cx="1768" cy="224.93" r="4.18"/>
<circle cx="1768" cy="219.88" r="4.18"/>
<circle cx="1768" cy="214.83" r="4.18"/>
<circle cx="1768" cy="209.77" r="4.18"/>
<circle cx="1768" cy="204.72" r="4.18"/>
<circle cx="1768" cy="199.67" r="4.18"/>
<circle cx="1768" cy="194.62" r="4.18"/>
<circle cx="1768" cy="189.57" r="4.18"/>
<circle cx="1768" cy="184.52" r="4.18"/>
<circle cx="1768" cy="179.46" r="4.18"/>
<circle cx="1768" cy="174.41" r="4.18"/>
<circle cx="1768" cy="164.31" r="4.18"/>
<circle cx="1768" cy="169.36" r="4.18"/>
<circle cx="1784.14" cy="209.77" r="4.18"/>
<circle cx="1784.14" cy="204.72" r="4.18"/>
<circle cx="1784.14" cy="199.67" r="4.18"/>
<circle cx="1784.14" cy="194.62" r="4.18"/>
<circle cx="1784.14" cy="189.57" r="4.18"/>
<circle cx="1784.14" cy="184.52" r="4.18"/>
<circle cx="1784.14" cy="179.46" r="4.18"/>
<circle cx="1784.14" cy="174.41" r="4.18"/>
<circle cx="1784.14" cy="169.36" r="4.18"/>
<circle cx="1784.14" cy="164.31" r="4.18"/>
<circle cx="1784.14" cy="154.21" r="4.18"/>
<circle cx="1784.14" cy="159.26" r="4.18"/>
<circle cx="1784.14" cy="149.16" r="4.18"/>
<circle cx="1800.28" cy="189.57" r="4.18"/>
<circle cx="1800.28" cy="184.52" r="4.18"/>
<circle cx="1800.28" cy="179.46" r="4.18"/>
<circle cx="1800.28" cy="174.41" r="4.18"/>
<circle cx="1800.28" cy="169.36" r="4.18"/>
<circle cx="1800.28" cy="164.31" r="4.18"/>
<circle cx="1800.28" cy="159.26" r="4.18"/>
<circle cx="1800.28" cy="154.21" r="4.18"/>
<circle cx="1800.28" cy="149.16" r="4.18"/>
<circle cx="1800.28" cy="144.1" r="4.18"/>
<circle cx="1800.28" cy="139.05" r="4.18"/>
<circle cx="1800.28" cy="128.95" r="4.18"/>
<circle cx="1800.28" cy="134" r="4.18"/>
<circle cx="1816.43" cy="169.36" r="4.18"/>
<circle cx="1816.43" cy="164.31" r="4.18"/>
<circle cx="1816.43" cy="159.26" r="4.18"/>
<circle cx="1816.43" cy="154.21" r="4.18"/>
<circle cx="1816.43" cy="149.16" r="4.18"/>
<circle cx="1816.43" cy="144.1" r="4.18"/>
<circle cx="1816.43" cy="139.05" r="4.18"/>
<circle cx="1816.43" cy="134" r="4.18"/>
<circle cx="1816.43" cy="113.8" r="4.18"/>
<circle cx="1816.43" cy="128.95" r="4.18"/>
<circle cx="1816.43" cy="118.85" r="4.18"/>
<circle cx="1816.43" cy="123.9" r="4.18"/>
<circle cx="1832.57" cy="149.16" r="4.18"/>
<circle cx="1832.57" cy="144.1" r="4.18"/>
<circle cx="1832.57" cy="139.05" r="4.18"/>
<circle cx="1832.57" cy="134" r="4.18"/>
<circle cx="1832.57" cy="128.95" r="4.18"/>
<circle cx="1832.57" cy="123.9" r="4.18"/>
<circle cx="1832.57" cy="118.85" r="4.18"/>
<circle cx="1832.57" cy="113.8" r="4.18"/>
<circle cx="1832.57" cy="108.74" r="4.18"/>
<circle cx="1832.57" cy="98.64" r="4.18"/>
<circle cx="1832.57" cy="103.69" r="4.18"/>
<circle cx="1848.71" cy="123.9" r="4.18"/>
<circle cx="1848.71" cy="118.85" r="4.18"/>
<circle cx="1848.71" cy="113.8" r="4.18"/>
<circle cx="1848.71" cy="108.74" r="4.18"/>
<circle cx="1848.71" cy="103.69" r="4.18"/>
<circle cx="1848.71" cy="98.64" r="4.18"/>
<circle cx="1848.71" cy="93.59" r="4.18"/>
<circle cx="1848.71" cy="88.54" r="4.18"/>
<circle cx="1848.71" cy="83.49" r="4.18"/>
<circle cx="1864.86" cy="93.59" r="4.18"/>
<circle cx="1864.86" cy="88.54" r="4.18"/>
<circle cx="1864.86" cy="83.49" r="4.18"/>
<circle cx="1864.86" cy="78.43" r="4.18"/>
<circle cx="1864.86" cy="73.38" r="4.18"/>
</g>
<path d="M1477.42 467.1v-14.9M1477.42 63.7v10M1558.13 467.1v-14.9M1558.13 63.7v10M1638.85 467.1v-14.9M1638.85 63.7v10M1719.57 467.1v-14.9M1719.57 63.7v10M1800.28 467.1v-14.9M1800.28 63.7v10M1437.06 467.1v-7.8M1437.06 63.7v5.3M1517.78 467.1v-7.8M1517.78 63.7v5.3M1598.49 467.1v-7.8M1598.49 63.7v5.3M1679.21 467.1v-7.8M1679.21 63.7v5.3M1759.92 467.1v-7.8M1759.92 63.7v5.3M1840.64 467.1v-7.8M1840.64 63.7v5.3M1396.7 416.68h10M1881 416.68h-10M1396.7 366.25h10M1881 366.25h-10M1396.7 315.83h10M1881 315.83h-10M1396.7 265.4h10M1881 265.4h-10M1396.7 214.97h10M1881 214.97h-10M1396.7 164.55h10M1881 164.55h-10M1396.7 114.12h10M1881 114.12h-10M1396.7 441.89h5.3M1881 441.89h-5.3M1396.7 391.46h5.3M1881 391.46h-5.3M1396.7 341.04h5.3M1881 341.04h-5.3M1396.7 290.61h5.3M1881 290.61h-5.3M1396.7 240.19h5.3M1881 240.19h-5.3M1396.7 189.76h5.3M1881 189.76h-5.3M1396.7 139.34h5.3M1881 139.34h-5.3M1396.7 88.91h5.3M1881 88.91h-5.3" stroke="#000" stroke-width="1.4" fill="none"/>
<rect x="1396.7" y="63.7" width="484.3" height="403.4" fill="none" stroke="#000" stroke-width="1.5"/>
<text transform="translate(1396.8 501.55) scale(1 1.03)" text-anchor="middle" font-size="29.5">5</text>
<text transform="translate(1477.52 501.55) scale(1 1.03)" text-anchor="middle" font-size="29.5">10</text>
<text transform="translate(1558.23 501.55) scale(1 1.03)" text-anchor="middle" font-size="29.5">15</text>
<text transform="translate(1638.95 501.55) scale(1 1.03)" text-anchor="middle" font-size="29.5">20</text>
<text transform="translate(1719.67 501.55) scale(1 1.03)" text-anchor="middle" font-size="29.5">25</text>
<text transform="translate(1800.38 501.55) scale(1 1.03)" text-anchor="middle" font-size="29.5">30</text>
<text transform="translate(1881.1 501.55) scale(1 1.03)" text-anchor="middle" font-size="29.5">35</text>
<text transform="translate(1384.3 476.6) scale(1 1.03)" text-anchor="end" font-size="29.5">0</text>
<text transform="translate(1384.3 426.18) scale(1 1.03)" text-anchor="end" font-size="29.5">10</text>
<text transform="translate(1384.3 375.75) scale(1 1.03)" text-anchor="end" font-size="29.5">20</text>
<text transform="translate(1384.3 325.33) scale(1 1.03)" text-anchor="end" font-size="29.5">30</text>
<text transform="translate(1384.3 274.9) scale(1 1.03)" text-anchor="end" font-size="29.5">40</text>
<text transform="translate(1384.3 224.47) scale(1 1.03)" text-anchor="end" font-size="29.5">50</text>
<text transform="translate(1384.3 174.05) scale(1 1.03)" text-anchor="end" font-size="29.5">60</text>
<text transform="translate(1384.3 123.62) scale(1 1.03)" text-anchor="end" font-size="29.5">70</text>
<text transform="translate(1384.3 73.2) scale(1 1.03)" text-anchor="end" font-size="29.5">80</text>
<path d="M842.12 601.9V1005.35M922.78 601.9V1005.35M1003.45 601.9V1005.35M1084.12 601.9V1005.35M1164.78 601.9V1005.35M761.45 960.52H1245.45M761.45 870.87H1245.45M761.45 781.21H1245.45M761.45 691.56H1245.45" stroke="#d0d0d0" stroke-width="0.95" fill="none"/>
<g fill="#00ffff" stroke="#000" stroke-width="0.7">
<circle cx="809.85" cy="763.28" r="4.18"/>
<circle cx="809.85" cy="754.31" r="4.18"/>
<circle cx="809.85" cy="745.35" r="4.18"/>
<circle cx="809.85" cy="736.38" r="4.18"/>
<circle cx="809.85" cy="727.42" r="4.18"/>
<circle cx="809.85" cy="718.45" r="4.18"/>
<circle cx="809.85" cy="709.49" r="4.18"/>
<circle cx="809.85" cy="700.52" r="4.18"/>
<circle cx="809.85" cy="691.56" r="4.18"/>
<circle cx="809.85" cy="682.59" r="4.18"/>
<circle cx="825.98" cy="772.25" r="4.18"/>
<circle cx="825.98" cy="763.28" r="4.18"/>
<circle cx="825.98" cy="754.31" r="4.18"/>
<circle cx="825.98" cy="745.35" r="4.18"/>
<circle cx="825.98" cy="736.38" r="4.18"/>
<circle cx="825.98" cy="727.42" r="4.18"/>
<circle cx="825.98" cy="718.45" r="4.18"/>
<circle cx="825.98" cy="709.49" r="4.18"/>
<circle cx="825.98" cy="700.52" r="4.18"/>
<circle cx="825.98" cy="691.56" r="4.18"/>
<circle cx="825.98" cy="682.59" r="4.18"/>
<circle cx="842.12" cy="790.18" r="4.18"/>
<circle cx="842.12" cy="781.21" r="4.18"/>
<circle cx="842.12" cy="772.25" r="4.18"/>
<circle cx="842.12" cy="763.28" r="4.18"/>
<circle cx="842.12" cy="754.31" r="4.18"/>
<circle cx="842.12" cy="745.35" r="4.18"/>
<circle cx="842.12" cy="736.38" r="4.18"/>
<circle cx="842.12" cy="727.42" r="4.18"/>
<circle cx="842.12" cy="718.45" r="4.18"/>
<circle cx="842.12" cy="709.49" r="4.18"/>
<circle cx="842.12" cy="700.52" r="4.18"/>
<circle cx="842.12" cy="691.56" r="4.18"/>
<circle cx="842.12" cy="682.59" r="4.18"/>
<circle cx="858.25" cy="808.11" r="4.18"/>
<circle cx="858.25" cy="799.14" r="4.18"/>
<circle cx="858.25" cy="790.18" r="4.18"/>
<circle cx="858.25" cy="781.21" r="4.18"/>
<circle cx="858.25" cy="772.25" r="4.18"/>
<circle cx="858.25" cy="763.28" r="4.18"/>
<circle cx="858.25" cy="754.31" r="4.18"/>
<circle cx="858.25" cy="745.35" r="4.18"/>
<circle cx="858.25" cy="736.38" r="4.18"/>
<circle cx="858.25" cy="727.42" r="4.18"/>
<circle cx="858.25" cy="718.45" r="4.18"/>
<circle cx="858.25" cy="709.49" r="4.18"/>
<circle cx="858.25" cy="700.52" r="4.18"/>
<circle cx="858.25" cy="691.56" r="4.18"/>
<circle cx="874.38" cy="817.07" r="4.18"/>
<circle cx="874.38" cy="808.11" r="4.18"/>
<circle cx="874.38" cy="799.14" r="4.18"/>
<circle cx="874.38" cy="790.18" r="4.18"/>
<circle cx="874.38" cy="781.21" r="4.18"/>
<circle cx="874.38" cy="772.25" r="4.18"/>
<circle cx="874.38" cy="763.28" r="4.18"/>
<circle cx="874.38" cy="754.31" r="4.18"/>
<circle cx="874.38" cy="745.35" r="4.18"/>
<circle cx="874.38" cy="736.38" r="4.18"/>
<circle cx="874.38" cy="727.42" r="4.18"/>
<circle cx="874.38" cy="718.45" r="4.18"/>
<circle cx="874.38" cy="709.49" r="4.18"/>
<circle cx="874.38" cy="700.52" r="4.18"/>
<circle cx="890.52" cy="826.04" r="4.18"/>
<circle cx="890.52" cy="817.07" r="4.18"/>
<circle cx="890.52" cy="808.11" r="4.18"/>
<circle cx="890.52" cy="799.14" r="4.18"/>
<circle cx="890.52" cy="790.18" r="4.18"/>
<circle cx="890.52" cy="781.21" r="4.18"/>
<circle cx="890.52" cy="772.25" r="4.18"/>
<circle cx="890.52" cy="763.28" r="4.18"/>
<circle cx="890.52" cy="754.31" r="4.18"/>
<circle cx="890.52" cy="745.35" r="4.18"/>
<circle cx="890.52" cy="736.38" r="4.18"/>
<circle cx="890.52" cy="727.42" r="4.18"/>
<circle cx="890.52" cy="718.45" r="4.18"/>
<circle cx="890.52" cy="709.49" r="4.18"/>
<circle cx="906.65" cy="835" r="4.18"/>
<circle cx="906.65" cy="826.04" r="4.18"/>
<circle cx="906.65" cy="817.07" r="4.18"/>
<circle cx="906.65" cy="808.11" r="4.18"/>
<circle cx="906.65" cy="799.14" r="4.18"/>
<circle cx="906.65" cy="790.18" r="4.18"/>
<circle cx="906.65" cy="781.21" r="4.18"/>
<circle cx="906.65" cy="772.25" r="4.18"/>
<circle cx="906.65" cy="763.28" r="4.18"/>
<circle cx="906.65" cy="754.31" r="4.18"/>
<circle cx="906.65" cy="745.35" r="4.18"/>
<circle cx="906.65" cy="736.38" r="4.18"/>
<circle cx="906.65" cy="727.42" r="4.18"/>
<circle cx="906.65" cy="718.45" r="4.18"/>
<circle cx="922.78" cy="843.97" r="4.18"/>
<circle cx="922.78" cy="835" r="4.18"/>
<circle cx="922.78" cy="826.04" r="4.18"/>
<circle cx="922.78" cy="817.07" r="4.18"/>
<circle cx="922.78" cy="808.11" r="4.18"/>
<circle cx="922.78" cy="799.14" r="4.18"/>
<circle cx="922.78" cy="790.18" r="4.18"/>
<circle cx="922.78" cy="781.21" r="4.18"/>
<circle cx="922.78" cy="772.25" r="4.18"/>
<circle cx="922.78" cy="763.28" r="4.18"/>
<circle cx="922.78" cy="754.31" r="4.18"/>
<circle cx="922.78" cy="745.35" r="4.18"/>
<circle cx="922.78" cy="736.38" r="4.18"/>
<circle cx="938.92" cy="852.94" r="4.18"/>
<circle cx="938.92" cy="843.97" r="4.18"/>
<circle cx="938.92" cy="835" r="4.18"/>
<circle cx="938.92" cy="826.04" r="4.18"/>
<circle cx="938.92" cy="817.07" r="4.18"/>
<circle cx="938.92" cy="808.11" r="4.18"/>
<circle cx="938.92" cy="799.14" r="4.18"/>
<circle cx="938.92" cy="790.18" r="4.18"/>
<circle cx="938.92" cy="781.21" r="4.18"/>
<circle cx="938.92" cy="772.25" r="4.18"/>
<circle cx="938.92" cy="763.28" r="4.18"/>
<circle cx="938.92" cy="754.31" r="4.18"/>
<circle cx="938.92" cy="745.35" r="4.18"/>
<circle cx="955.05" cy="861.9" r="4.18"/>
<circle cx="955.05" cy="852.94" r="4.18"/>
<circle cx="955.05" cy="843.97" r="4.18"/>
<circle cx="955.05" cy="835" r="4.18"/>
<circle cx="955.05" cy="826.04" r="4.18"/>
<circle cx="955.05" cy="817.07" r="4.18"/>
<circle cx="955.05" cy="808.11" r="4.18"/>
<circle cx="955.05" cy="799.14" r="4.18"/>
<circle cx="955.05" cy="790.18" r="4.18"/>
<circle cx="955.05" cy="781.21" r="4.18"/>
<circle cx="955.05" cy="772.25" r="4.18"/>
<circle cx="955.05" cy="763.28" r="4.18"/>
<circle cx="955.05" cy="754.31" r="4.18"/>
<circle cx="971.18" cy="870.87" r="4.18"/>
<circle cx="971.18" cy="861.9" r="4.18"/>
<circle cx="971.18" cy="852.94" r="4.18"/>
<circle cx="971.18" cy="843.97" r="4.18"/>
<circle cx="971.18" cy="835" r="4.18"/>
<circle cx="971.18" cy="826.04" r="4.18"/>
<circle cx="971.18" cy="817.07" r="4.18"/>
<circle cx="971.18" cy="808.11" r="4.18"/>
<circle cx="971.18" cy="799.14" r="4.18"/>
<circle cx="971.18" cy="790.18" r="4.18"/>
<circle cx="971.18" cy="781.21" r="4.18"/>
<circle cx="971.18" cy="772.25" r="4.18"/>
<circle cx="987.32" cy="870.87" r="4.18"/>
<circle cx="987.32" cy="861.9" r="4.18"/>
<circle cx="987.32" cy="852.94" r="4.18"/>
<circle cx="987.32" cy="843.97" r="4.18"/>
<circle cx="987.32" cy="835" r="4.18"/>
<circle cx="987.32" cy="826.04" r="4.18"/>
<circle cx="987.32" cy="817.07" r="4.18"/>
<circle cx="987.32" cy="808.11" r="4.18"/>
<circle cx="987.32" cy="799.14" r="4.18"/>
<circle cx="987.32" cy="790.18" r="4.18"/>
<circle cx="987.32" cy="781.21" r="4.18"/>
<circle cx="1003.45" cy="879.83" r="4.18"/>
<circle cx="1003.45" cy="870.87" r="4.18"/>
<circle cx="1003.45" cy="861.9" r="4.18"/>
<circle cx="1003.45" cy="852.94" r="4.18"/>
<circle cx="1003.45" cy="843.97" r="4.18"/>
<circle cx="1003.45" cy="835" r="4.18"/>
<circle cx="1003.45" cy="826.04" r="4.18"/>
<circle cx="1003.45" cy="817.07" r="4.18"/>
<circle cx="1003.45" cy="808.11" r="4.18"/>
<circle cx="1003.45" cy="799.14" r="4.18"/>
<circle cx="1003.45" cy="790.18" r="4.18"/>
<circle cx="1019.58" cy="879.83" r="4.18"/>
<circle cx="1019.58" cy="870.87" r="4.18"/>
<circle cx="1019.58" cy="861.9" r="4.18"/>
<circle cx="1019.58" cy="852.94" r="4.18"/>
<circle cx="1019.58" cy="843.97" r="4.18"/>
<circle cx="1019.58" cy="835" r="4.18"/>
<circle cx="1019.58" cy="826.04" r="4.18"/>
<circle cx="1019.58" cy="817.07" r="4.18"/>
<circle cx="1019.58" cy="808.11" r="4.18"/>
<circle cx="1035.72" cy="888.8" r="4.18"/>
<circle cx="1035.72" cy="879.83" r="4.18"/>
<circle cx="1035.72" cy="870.87" r="4.18"/>
<circle cx="1035.72" cy="861.9" r="4.18"/>
<circle cx="1035.72" cy="852.94" r="4.18"/>
<circle cx="1035.72" cy="843.97" r="4.18"/>
<circle cx="1035.72" cy="835" r="4.18"/>
<circle cx="1035.72" cy="826.04" r="4.18"/>
<circle cx="1035.72" cy="817.07" r="4.18"/>
<circle cx="1051.85" cy="888.8" r="4.18"/>
<circle cx="1051.85" cy="879.83" r="4.18"/>
<circle cx="1051.85" cy="870.87" r="4.18"/>
<circle cx="1051.85" cy="861.9" r="4.18"/>
<circle cx="1051.85" cy="852.94" r="4.18"/>
<circle cx="1051.85" cy="843.97" r="4.18"/>
<circle cx="1051.85" cy="835" r="4.18"/>
<circle cx="1067.98" cy="897.76" r="4.18"/>
<circle cx="1067.98" cy="888.8" r="4.18"/>
<circle cx="1067.98" cy="879.83" r="4.18"/>
<circle cx="1067.98" cy="870.87" r="4.18"/>
<circle cx="1067.98" cy="861.9" r="4.18"/>
<circle cx="1067.98" cy="852.94" r="4.18"/>
<circle cx="1084.12" cy="897.76" r="4.18"/>
<circle cx="1084.12" cy="888.8" r="4.18"/>
<circle cx="1084.12" cy="879.83" r="4.18"/>
<circle cx="1084.12" cy="870.87" r="4.18"/>
</g>
<path d="M842.12 1005.35v-14.9M842.12 601.9v10M922.78 1005.35v-14.9M922.78 601.9v10M1003.45 1005.35v-14.9M1003.45 601.9v10M1084.12 1005.35v-14.9M1084.12 601.9v10M1164.78 1005.35v-14.9M1164.78 601.9v10M801.78 1005.35v-7.8M801.78 601.9v5.3M882.45 1005.35v-7.8M882.45 601.9v5.3M963.12 1005.35v-7.8M963.12 601.9v5.3M1043.78 1005.35v-7.8M1043.78 601.9v5.3M1124.45 1005.35v-7.8M1124.45 601.9v5.3M1205.12 1005.35v-7.8M1205.12 601.9v5.3M761.45 960.52h10M1245.45 960.52h-10M761.45 870.87h10M1245.45 870.87h-10M761.45 781.21h10M1245.45 781.21h-10M761.45 691.56h10M1245.45 691.56h-10M761.45 915.69h5.3M1245.45 915.69h-5.3M761.45 826.04h5.3M1245.45 826.04h-5.3M761.45 736.38h5.3M1245.45 736.38h-5.3M761.45 646.73h5.3M1245.45 646.73h-5.3" stroke="#000" stroke-width="1.4" fill="none"/>
<rect x="761.45" y="601.9" width="484" height="403.45" fill="none" stroke="#000" stroke-width="1.5"/>
<text transform="translate(761.55 1039.55) scale(1 1.03)" text-anchor="middle" font-size="29.5">5</text>
<text transform="translate(842.22 1039.55) scale(1 1.03)" text-anchor="middle" font-size="29.5">10</text>
<text transform="translate(922.88 1039.55) scale(1 1.03)" text-anchor="middle" font-size="29.5">15</text>
<text transform="translate(1003.55 1039.55) scale(1 1.03)" text-anchor="middle" font-size="29.5">20</text>
<text transform="translate(1084.22 1039.55) scale(1 1.03)" text-anchor="middle" font-size="29.5">25</text>
<text transform="translate(1164.88 1039.55) scale(1 1.03)" text-anchor="middle" font-size="29.5">30</text>
<text transform="translate(1245.55 1039.55) scale(1 1.03)" text-anchor="middle" font-size="29.5">35</text>
<text transform="translate(749.05 970.12) scale(1 1.03)" text-anchor="end" font-size="29.5">10</text>
<text transform="translate(749.05 880.47) scale(1 1.03)" text-anchor="end" font-size="29.5">20</text>
<text transform="translate(749.05 790.81) scale(1 1.03)" text-anchor="end" font-size="29.5">30</text>
<text transform="translate(749.05 701.16) scale(1 1.03)" text-anchor="end" font-size="29.5">40</text>
<text transform="translate(749.05 611.5) scale(1 1.03)" text-anchor="end" font-size="29.5">50</text>
<path d="M1477.42 601.9V1005.35M1558.13 601.9V1005.35M1638.85 601.9V1005.35M1719.57 601.9V1005.35M1800.28 601.9V1005.35M1396.7 960.52H1881M1396.7 870.87H1881M1396.7 781.21H1881M1396.7 691.56H1881" stroke="#d0d0d0" stroke-width="0.95" fill="none"/>
<g fill="#00ffff" stroke="#000" stroke-width="0.7">
<circle cx="1412.84" cy="745.35" r="4.18"/>
<circle cx="1412.84" cy="736.38" r="4.18"/>
<circle cx="1412.84" cy="727.42" r="4.18"/>
<circle cx="1412.84" cy="718.45" r="4.18"/>
<circle cx="1412.84" cy="709.49" r="4.18"/>
<circle cx="1412.84" cy="700.52" r="4.18"/>
<circle cx="1412.84" cy="691.56" r="4.18"/>
<circle cx="1412.84" cy="682.59" r="4.18"/>
<circle cx="1428.99" cy="781.21" r="4.18"/>
<circle cx="1428.99" cy="772.25" r="4.18"/>
<circle cx="1428.99" cy="763.28" r="4.18"/>
<circle cx="1428.99" cy="754.31" r="4.18"/>
<circle cx="1428.99" cy="745.35" r="4.18"/>
<circle cx="1428.99" cy="736.38" r="4.18"/>
<circle cx="1428.99" cy="727.42" r="4.18"/>
<circle cx="1428.99" cy="718.45" r="4.18"/>
<circle cx="1428.99" cy="709.49" r="4.18"/>
<circle cx="1428.99" cy="700.52" r="4.18"/>
<circle cx="1428.99" cy="691.56" r="4.18"/>
<circle cx="1428.99" cy="682.59" r="4.18"/>
<circle cx="1428.99" cy="673.62" r="4.18"/>
<circle cx="1428.99" cy="664.66" r="4.18"/>
<circle cx="1428.99" cy="655.69" r="4.18"/>
<circle cx="1428.99" cy="646.73" r="4.18"/>
<circle cx="1428.99" cy="637.76" r="4.18"/>
<circle cx="1445.13" cy="790.18" r="4.18"/>
<circle cx="1445.13" cy="781.21" r="4.18"/>
<circle cx="1445.13" cy="772.25" r="4.18"/>
<circle cx="1445.13" cy="763.28" r="4.18"/>
<circle cx="1445.13" cy="754.31" r="4.18"/>
<circle cx="1445.13" cy="745.35" r="4.18"/>
<circle cx="1445.13" cy="736.38" r="4.18"/>
<circle cx="1445.13" cy="727.42" r="4.18"/>
<circle cx="1445.13" cy="718.45" r="4.18"/>
<circle cx="1445.13" cy="709.49" r="4.18"/>
<circle cx="1445.13" cy="700.52" r="4.18"/>
<circle cx="1445.13" cy="691.56" r="4.18"/>
<circle cx="1445.13" cy="682.59" r="4.18"/>
<circle cx="1445.13" cy="673.62" r="4.18"/>
<circle cx="1445.13" cy="664.66" r="4.18"/>
<circle cx="1445.13" cy="655.69" r="4.18"/>
<circle cx="1445.13" cy="646.73" r="4.18"/>
<circle cx="1445.13" cy="637.76" r="4.18"/>
<circle cx="1461.27" cy="808.11" r="4.18"/>
<circle cx="1461.27" cy="799.14" r="4.18"/>
<circle cx="1461.27" cy="790.18" r="4.18"/>
<circle cx="1461.27" cy="781.21" r="4.18"/>
<circle cx="1461.27" cy="772.25" r="4.18"/>
<circle cx="1461.27" cy="763.28" r="4.18"/>
<circle cx="1461.27" cy="754.31" r="4.18"/>
<circle cx="1461.27" cy="745.35" r="4.18"/>
<circle cx="1461.27" cy="736.38" r="4.18"/>
<circle cx="1461.27" cy="727.42" r="4.18"/>
<circle cx="1461.27" cy="718.45" r="4.18"/>
<circle cx="1461.27" cy="709.49" r="4.18"/>
<circle cx="1461.27" cy="700.52" r="4.18"/>
<circle cx="1461.27" cy="691.56" r="4.18"/>
<circle cx="1461.27" cy="682.59" r="4.18"/>
<circle cx="1461.27" cy="673.62" r="4.18"/>
<circle cx="1461.27" cy="664.66" r="4.18"/>
<circle cx="1461.27" cy="655.69" r="4.18"/>
<circle cx="1461.27" cy="646.73" r="4.18"/>
<circle cx="1477.42" cy="817.07" r="4.18"/>
<circle cx="1477.42" cy="808.11" r="4.18"/>
<circle cx="1477.42" cy="799.14" r="4.18"/>
<circle cx="1477.42" cy="790.18" r="4.18"/>
<circle cx="1477.42" cy="781.21" r="4.18"/>
<circle cx="1477.42" cy="772.25" r="4.18"/>
<circle cx="1477.42" cy="763.28" r="4.18"/>
<circle cx="1477.42" cy="754.31" r="4.18"/>
<circle cx="1477.42" cy="745.35" r="4.18"/>
<circle cx="1477.42" cy="736.38" r="4.18"/>
<circle cx="1477.42" cy="727.42" r="4.18"/>
<circle cx="1477.42" cy="718.45" r="4.18"/>
<circle cx="1477.42" cy="709.49" r="4.18"/>
<circle cx="1477.42" cy="700.52" r="4.18"/>
<circle cx="1477.42" cy="691.56" r="4.18"/>
<circle cx="1477.42" cy="682.59" r="4.18"/>
<circle cx="1477.42" cy="673.62" r="4.18"/>
<circle cx="1477.42" cy="664.66" r="4.18"/>
<circle cx="1477.42" cy="655.69" r="4.18"/>
<circle cx="1477.42" cy="646.73" r="4.18"/>
<circle cx="1493.56" cy="835" r="4.18"/>
<circle cx="1493.56" cy="826.04" r="4.18"/>
<circle cx="1493.56" cy="817.07" r="4.18"/>
<circle cx="1493.56" cy="808.11" r="4.18"/>
<circle cx="1493.56" cy="799.14" r="4.18"/>
<circle cx="1493.56" cy="790.18" r="4.18"/>
<circle cx="1493.56" cy="781.21" r="4.18"/>
<circle cx="1493.56" cy="772.25" r="4.18"/>
<circle cx="1493.56" cy="763.28" r="4.18"/>
<circle cx="1493.56" cy="754.31" r="4.18"/>
<circle cx="1493.56" cy="745.35" r="4.18"/>
<circle cx="1493.56" cy="736.38" r="4.18"/>
<circle cx="1493.56" cy="727.42" r="4.18"/>
<circle cx="1493.56" cy="718.45" r="4.18"/>
<circle cx="1493.56" cy="709.49" r="4.18"/>
<circle cx="1493.56" cy="700.52" r="4.18"/>
<circle cx="1493.56" cy="691.56" r="4.18"/>
<circle cx="1493.56" cy="682.59" r="4.18"/>
<circle cx="1493.56" cy="673.62" r="4.18"/>
<circle cx="1493.56" cy="664.66" r="4.18"/>
<circle cx="1493.56" cy="655.69" r="4.18"/>
<circle cx="1509.7" cy="843.97" r="4.18"/>
<circle cx="1509.7" cy="835" r="4.18"/>
<circle cx="1509.7" cy="826.04" r="4.18"/>
<circle cx="1509.7" cy="817.07" r="4.18"/>
<circle cx="1509.7" cy="808.11" r="4.18"/>
<circle cx="1509.7" cy="799.14" r="4.18"/>
<circle cx="1509.7" cy="790.18" r="4.18"/>
<circle cx="1509.7" cy="781.21" r="4.18"/>
<circle cx="1509.7" cy="772.25" r="4.18"/>
<circle cx="1509.7" cy="763.28" r="4.18"/>
<circle cx="1509.7" cy="754.31" r="4.18"/>
<circle cx="1509.7" cy="745.35" r="4.18"/>
<circle cx="1509.7" cy="736.38" r="4.18"/>
<circle cx="1509.7" cy="727.42" r="4.18"/>
<circle cx="1509.7" cy="718.45" r="4.18"/>
<circle cx="1509.7" cy="709.49" r="4.18"/>
<circle cx="1509.7" cy="700.52" r="4.18"/>
<circle cx="1509.7" cy="691.56" r="4.18"/>
<circle cx="1509.7" cy="682.59" r="4.18"/>
<circle cx="1509.7" cy="673.62" r="4.18"/>
<circle cx="1509.7" cy="664.66" r="4.18"/>
<circle cx="1525.85" cy="852.94" r="4.18"/>
<circle cx="1525.85" cy="843.97" r="4.18"/>
<circle cx="1525.85" cy="835" r="4.18"/>
<circle cx="1525.85" cy="826.04" r="4.18"/>
<circle cx="1525.85" cy="817.07" r="4.18"/>
<circle cx="1525.85" cy="808.11" r="4.18"/>
<circle cx="1525.85" cy="799.14" r="4.18"/>
<circle cx="1525.85" cy="790.18" r="4.18"/>
<circle cx="1525.85" cy="781.21" r="4.18"/>
<circle cx="1525.85" cy="772.25" r="4.18"/>
<circle cx="1525.85" cy="763.28" r="4.18"/>
<circle cx="1525.85" cy="754.31" r="4.18"/>
<circle cx="1525.85" cy="745.35" r="4.18"/>
<circle cx="1525.85" cy="736.38" r="4.18"/>
<circle cx="1525.85" cy="727.42" r="4.18"/>
<circle cx="1525.85" cy="718.45" r="4.18"/>
<circle cx="1525.85" cy="709.49" r="4.18"/>
<circle cx="1525.85" cy="700.52" r="4.18"/>
<circle cx="1525.85" cy="691.56" r="4.18"/>
<circle cx="1525.85" cy="682.59" r="4.18"/>
<circle cx="1541.99" cy="861.9" r="4.18"/>
<circle cx="1541.99" cy="852.94" r="4.18"/>
<circle cx="1541.99" cy="843.97" r="4.18"/>
<circle cx="1541.99" cy="835" r="4.18"/>
<circle cx="1541.99" cy="826.04" r="4.18"/>
<circle cx="1541.99" cy="817.07" r="4.18"/>
<circle cx="1541.99" cy="808.11" r="4.18"/>
<circle cx="1541.99" cy="799.14" r="4.18"/>
<circle cx="1541.99" cy="790.18" r="4.18"/>
<circle cx="1541.99" cy="781.21" r="4.18"/>
<circle cx="1541.99" cy="772.25" r="4.18"/>
<circle cx="1541.99" cy="763.28" r="4.18"/>
<circle cx="1541.99" cy="754.31" r="4.18"/>
<circle cx="1541.99" cy="745.35" r="4.18"/>
<circle cx="1541.99" cy="736.38" r="4.18"/>
<circle cx="1541.99" cy="727.42" r="4.18"/>
<circle cx="1541.99" cy="718.45" r="4.18"/>
<circle cx="1541.99" cy="709.49" r="4.18"/>
<circle cx="1541.99" cy="700.52" r="4.18"/>
<circle cx="1541.99" cy="691.56" r="4.18"/>
<circle cx="1558.13" cy="870.87" r="4.18"/>
<circle cx="1558.13" cy="861.9" r="4.18"/>
<circle cx="1558.13" cy="852.94" r="4.18"/>
<circle cx="1558.13" cy="843.97" r="4.18"/>
<circle cx="1558.13" cy="835" r="4.18"/>
<circle cx="1558.13" cy="826.04" r="4.18"/>
<circle cx="1558.13" cy="817.07" r="4.18"/>
<circle cx="1558.13" cy="808.11" r="4.18"/>
<circle cx="1558.13" cy="799.14" r="4.18"/>
<circle cx="1558.13" cy="790.18" r="4.18"/>
<circle cx="1558.13" cy="781.21" r="4.18"/>
<circle cx="1558.13" cy="772.25" r="4.18"/>
<circle cx="1558.13" cy="763.28" r="4.18"/>
<circle cx="1558.13" cy="754.31" r="4.18"/>
<circle cx="1558.13" cy="745.35" r="4.18"/>
<circle cx="1558.13" cy="736.38" r="4.18"/>
<circle cx="1558.13" cy="727.42" r="4.18"/>
<circle cx="1558.13" cy="718.45" r="4.18"/>
<circle cx="1558.13" cy="709.49" r="4.18"/>
<circle cx="1558.13" cy="700.52" r="4.18"/>
<circle cx="1574.28" cy="879.83" r="4.18"/>
<circle cx="1574.28" cy="870.87" r="4.18"/>
<circle cx="1574.28" cy="861.9" r="4.18"/>
<circle cx="1574.28" cy="852.94" r="4.18"/>
<circle cx="1574.28" cy="843.97" r="4.18"/>
<circle cx="1574.28" cy="835" r="4.18"/>
<circle cx="1574.28" cy="826.04" r="4.18"/>
<circle cx="1574.28" cy="817.07" r="4.18"/>
<circle cx="1574.28" cy="808.11" r="4.18"/>
<circle cx="1574.28" cy="799.14" r="4.18"/>
<circle cx="1574.28" cy="790.18" r="4.18"/>
<circle cx="1574.28" cy="781.21" r="4.18"/>
<circle cx="1574.28" cy="772.25" r="4.18"/>
<circle cx="1574.28" cy="763.28" r="4.18"/>
<circle cx="1574.28" cy="754.31" r="4.18"/>
<circle cx="1574.28" cy="745.35" r="4.18"/>
<circle cx="1574.28" cy="736.38" r="4.18"/>
<circle cx="1574.28" cy="727.42" r="4.18"/>
<circle cx="1574.28" cy="718.45" r="4.18"/>
<circle cx="1574.28" cy="709.49" r="4.18"/>
<circle cx="1590.42" cy="879.83" r="4.18"/>
<circle cx="1590.42" cy="870.87" r="4.18"/>
<circle cx="1590.42" cy="861.9" r="4.18"/>
<circle cx="1590.42" cy="852.94" r="4.18"/>
<circle cx="1590.42" cy="843.97" r="4.18"/>
<circle cx="1590.42" cy="835" r="4.18"/>
<circle cx="1590.42" cy="826.04" r="4.18"/>
<circle cx="1590.42" cy="817.07" r="4.18"/>
<circle cx="1590.42" cy="808.11" r="4.18"/>
<circle cx="1590.42" cy="799.14" r="4.18"/>
<circle cx="1590.42" cy="790.18" r="4.18"/>
<circle cx="1590.42" cy="781.21" r="4.18"/>
<circle cx="1590.42" cy="772.25" r="4.18"/>
<circle cx="1590.42" cy="763.28" r="4.18"/>
<circle cx="1590.42" cy="754.31" r="4.18"/>
<circle cx="1590.42" cy="745.35" r="4.18"/>
<circle cx="1590.42" cy="736.38" r="4.18"/>
<circle cx="1590.42" cy="727.42" r="4.18"/>
<circle cx="1606.56" cy="888.8" r="4.18"/>
<circle cx="1606.56" cy="879.83" r="4.18"/>
<circle cx="1606.56" cy="870.87" r="4.18"/>
<circle cx="1606.56" cy="861.9" r="4.18"/>
<circle cx="1606.56" cy="852.94" r="4.18"/>
<circle cx="1606.56" cy="843.97" r="4.18"/>
<circle cx="1606.56" cy="835" r="4.18"/>
<circle cx="1606.56" cy="826.04" r="4.18"/>
<circle cx="1606.56" cy="817.07" r="4.18"/>
<circle cx="1606.56" cy="808.11" r="4.18"/>
<circle cx="1606.56" cy="799.14" r="4.18"/>
<circle cx="1606.56" cy="790.18" r="4.18"/>
<circle cx="1606.56" cy="781.21" r="4.18"/>
<circle cx="1606.56" cy="772.25" r="4.18"/>
<circle cx="1606.56" cy="763.28" r="4.18"/>
<circle cx="1606.56" cy="754.31" r="4.18"/>
<circle cx="1606.56" cy="745.35" r="4.18"/>
<circle cx="1606.56" cy="736.38" r="4.18"/>
<circle cx="1622.71" cy="897.76" r="4.18"/>
<circle cx="1622.71" cy="888.8" r="4.18"/>
<circle cx="1622.71" cy="879.83" r="4.18"/>
<circle cx="1622.71" cy="870.87" r="4.18"/>
<circle cx="1622.71" cy="861.9" r="4.18"/>
<circle cx="1622.71" cy="852.94" r="4.18"/>
<circle cx="1622.71" cy="843.97" r="4.18"/>
<circle cx="1622.71" cy="835" r="4.18"/>
<circle cx="1622.71" cy="826.04" r="4.18"/>
<circle cx="1622.71" cy="817.07" r="4.18"/>
<circle cx="1622.71" cy="808.11" r="4.18"/>
<circle cx="1622.71" cy="799.14" r="4.18"/>
<circle cx="1622.71" cy="790.18" r="4.18"/>
<circle cx="1622.71" cy="781.21" r="4.18"/>
<circle cx="1622.71" cy="772.25" r="4.18"/>
<circle cx="1622.71" cy="763.28" r="4.18"/>
<circle cx="1622.71" cy="754.31" r="4.18"/>
<circle cx="1622.71" cy="745.35" r="4.18"/>
<circle cx="1638.85" cy="906.73" r="4.18"/>
<circle cx="1638.85" cy="897.76" r="4.18"/>
<circle cx="1638.85" cy="888.8" r="4.18"/>
<circle cx="1638.85" cy="879.83" r="4.18"/>
<circle cx="1638.85" cy="870.87" r="4.18"/>
<circle cx="1638.85" cy="861.9" r="4.18"/>
<circle cx="1638.85" cy="852.94" r="4.18"/>
<circle cx="1638.85" cy="843.97" r="4.18"/>
<circle cx="1638.85" cy="835" r="4.18"/>
<circle cx="1638.85" cy="826.04" r="4.18"/>
<circle cx="1638.85" cy="817.07" r="4.18"/>
<circle cx="1638.85" cy="808.11" r="4.18"/>
<circle cx="1638.85" cy="799.14" r="4.18"/>
<circle cx="1638.85" cy="790.18" r="4.18"/>
<circle cx="1638.85" cy="781.21" r="4.18"/>
<circle cx="1638.85" cy="772.25" r="4.18"/>
<circle cx="1638.85" cy="763.28" r="4.18"/>
<circle cx="1654.99" cy="906.73" r="4.18"/>
<circle cx="1654.99" cy="897.76" r="4.18"/>
<circle cx="1654.99" cy="888.8" r="4.18"/>
<circle cx="1654.99" cy="879.83" r="4.18"/>
<circle cx="1654.99" cy="870.87" r="4.18"/>
<circle cx="1654.99" cy="861.9" r="4.18"/>
<circle cx="1654.99" cy="852.94" r="4.18"/>
<circle cx="1654.99" cy="843.97" r="4.18"/>
<circle cx="1654.99" cy="835" r="4.18"/>
<circle cx="1654.99" cy="826.04" r="4.18"/>
<circle cx="1654.99" cy="817.07" r="4.18"/>
<circle cx="1654.99" cy="808.11" r="4.18"/>
<circle cx="1654.99" cy="799.14" r="4.18"/>
<circle cx="1654.99" cy="790.18" r="4.18"/>
<circle cx="1654.99" cy="781.21" r="4.18"/>
<circle cx="1654.99" cy="772.25" r="4.18"/>
<circle cx="1671.14" cy="915.69" r="4.18"/>
<circle cx="1671.14" cy="906.73" r="4.18"/>
<circle cx="1671.14" cy="897.76" r="4.18"/>
<circle cx="1671.14" cy="888.8" r="4.18"/>
<circle cx="1671.14" cy="879.83" r="4.18"/>
<circle cx="1671.14" cy="870.87" r="4.18"/>
<circle cx="1671.14" cy="861.9" r="4.18"/>
<circle cx="1671.14" cy="852.94" r="4.18"/>
<circle cx="1671.14" cy="843.97" r="4.18"/>
<circle cx="1671.14" cy="835" r="4.18"/>
<circle cx="1671.14" cy="826.04" r="4.18"/>
<circle cx="1671.14" cy="817.07" r="4.18"/>
<circle cx="1671.14" cy="808.11" r="4.18"/>
<circle cx="1671.14" cy="799.14" r="4.18"/>
<circle cx="1671.14" cy="790.18" r="4.18"/>
<circle cx="1671.14" cy="781.21" r="4.18"/>
<circle cx="1687.28" cy="924.66" r="4.18"/>
<circle cx="1687.28" cy="915.69" r="4.18"/>
<circle cx="1687.28" cy="906.73" r="4.18"/>
<circle cx="1687.28" cy="897.76" r="4.18"/>
<circle cx="1687.28" cy="888.8" r="4.18"/>
<circle cx="1687.28" cy="879.83" r="4.18"/>
<circle cx="1687.28" cy="870.87" r="4.18"/>
<circle cx="1687.28" cy="861.9" r="4.18"/>
<circle cx="1687.28" cy="852.94" r="4.18"/>
<circle cx="1687.28" cy="843.97" r="4.18"/>
<circle cx="1687.28" cy="835" r="4.18"/>
<circle cx="1687.28" cy="826.04" r="4.18"/>
<circle cx="1687.28" cy="817.07" r="4.18"/>
<circle cx="1687.28" cy="808.11" r="4.18"/>
<circle cx="1687.28" cy="799.14" r="4.18"/>
<circle cx="1703.42" cy="924.66" r="4.18"/>
<circle cx="1703.42" cy="915.69" r="4.18"/>
<circle cx="1703.42" cy="906.73" r="4.18"/>
<circle cx="1703.42" cy="897.76" r="4.18"/>
<circle cx="1703.42" cy="888.8" r="4.18"/>
<circle cx="1703.42" cy="879.83" r="4.18"/>
<circle cx="1703.42" cy="870.87" r="4.18"/>
<circle cx="1703.42" cy="861.9" r="4.18"/>
<circle cx="1703.42" cy="852.94" r="4.18"/>
<circle cx="1703.42" cy="843.97" r="4.18"/>
<circle cx="1703.42" cy="835" r="4.18"/>
<circle cx="1703.42" cy="826.04" r="4.18"/>
<circle cx="1703.42" cy="817.07" r="4.18"/>
<circle cx="1703.42" cy="808.11" r="4.18"/>
<circle cx="1719.57" cy="933.63" r="4.18"/>
<circle cx="1719.57" cy="924.66" r="4.18"/>
<circle cx="1719.57" cy="915.69" r="4.18"/>
<circle cx="1719.57" cy="906.73" r="4.18"/>
<circle cx="1719.57" cy="897.76" r="4.18"/>
<circle cx="1719.57" cy="888.8" r="4.18"/>
<circle cx="1719.57" cy="879.83" r="4.18"/>
<circle cx="1719.57" cy="870.87" r="4.18"/>
<circle cx="1719.57" cy="861.9" r="4.18"/>
<circle cx="1719.57" cy="852.94" r="4.18"/>
<circle cx="1719.57" cy="843.97" r="4.18"/>
<circle cx="1719.57" cy="835" r="4.18"/>
<circle cx="1719.57" cy="826.04" r="4.18"/>
<circle cx="1719.57" cy="817.07" r="4.18"/>
<circle cx="1735.71" cy="942.59" r="4.18"/>
<circle cx="1735.71" cy="933.63" r="4.18"/>
<circle cx="1735.71" cy="924.66" r="4.18"/>
<circle cx="1735.71" cy="915.69" r="4.18"/>
<circle cx="1735.71" cy="906.73" r="4.18"/>
<circle cx="1735.71" cy="897.76" r="4.18"/>
<circle cx="1735.71" cy="888.8" r="4.18"/>
<circle cx="1735.71" cy="879.83" r="4.18"/>
<circle cx="1735.71" cy="870.87" r="4.18"/>
<circle cx="1735.71" cy="861.9" r="4.18"/>
<circle cx="1735.71" cy="852.94" r="4.18"/>
<circle cx="1735.71" cy="843.97" r="4.18"/>
<circle cx="1735.71" cy="835" r="4.18"/>
<circle cx="1751.85" cy="942.59" r="4.18"/>
<circle cx="1751.85" cy="933.63" r="4.18"/>
<circle cx="1751.85" cy="924.66" r="4.18"/>
<circle cx="1751.85" cy="915.69" r="4.18"/>
<circle cx="1751.85" cy="906.73" r="4.18"/>
<circle cx="1751.85" cy="897.76" r="4.18"/>
<circle cx="1751.85" cy="888.8" r="4.18"/>
<circle cx="1751.85" cy="879.83" r="4.18"/>
<circle cx="1751.85" cy="870.87" r="4.18"/>
<circle cx="1751.85" cy="861.9" r="4.18"/>
<circle cx="1751.85" cy="852.94" r="4.18"/>
<circle cx="1751.85" cy="843.97" r="4.18"/>
<circle cx="1768" cy="951.56" r="4.18"/>
<circle cx="1768" cy="942.59" r="4.18"/>
<circle cx="1768" cy="933.63" r="4.18"/>
<circle cx="1768" cy="924.66" r="4.18"/>
<circle cx="1768" cy="915.69" r="4.18"/>
<circle cx="1768" cy="906.73" r="4.18"/>
<circle cx="1768" cy="897.76" r="4.18"/>
<circle cx="1768" cy="888.8" r="4.18"/>
<circle cx="1768" cy="879.83" r="4.18"/>
<circle cx="1768" cy="870.87" r="4.18"/>
<circle cx="1768" cy="861.9" r="4.18"/>
<circle cx="1784.14" cy="951.56" r="4.18"/>
<circle cx="1784.14" cy="942.59" r="4.18"/>
<circle cx="1784.14" cy="933.63" r="4.18"/>
<circle cx="1784.14" cy="924.66" r="4.18"/>
<circle cx="1784.14" cy="915.69" r="4.18"/>
<circle cx="1784.14" cy="906.73" r="4.18"/>
<circle cx="1784.14" cy="897.76" r="4.18"/>
<circle cx="1784.14" cy="888.8" r="4.18"/>
<circle cx="1784.14" cy="879.83" r="4.18"/>
<circle cx="1784.14" cy="870.87" r="4.18"/>
<circle cx="1800.28" cy="960.52" r="4.18"/>
<circle cx="1800.28" cy="951.56" r="4.18"/>
<circle cx="1800.28" cy="942.59" r="4.18"/>
<circle cx="1800.28" cy="933.63" r="4.18"/>
<circle cx="1800.28" cy="924.66" r="4.18"/>
<circle cx="1800.28" cy="915.69" r="4.18"/>
<circle cx="1800.28" cy="906.73" r="4.18"/>
<circle cx="1800.28" cy="897.76" r="4.18"/>
<circle cx="1800.28" cy="888.8" r="4.18"/>
<circle cx="1816.43" cy="960.52" r="4.18"/>
<circle cx="1816.43" cy="951.56" r="4.18"/>
<circle cx="1816.43" cy="942.59" r="4.18"/>
<circle cx="1816.43" cy="933.63" r="4.18"/>
<circle cx="1816.43" cy="924.66" r="4.18"/>
<circle cx="1816.43" cy="915.69" r="4.18"/>
<circle cx="1816.43" cy="906.73" r="4.18"/>
<circle cx="1816.43" cy="897.76" r="4.18"/>
<circle cx="1832.57" cy="969.49" r="4.18"/>
<circle cx="1832.57" cy="960.52" r="4.18"/>
<circle cx="1832.57" cy="951.56" r="4.18"/>
<circle cx="1832.57" cy="942.59" r="4.18"/>
<circle cx="1832.57" cy="933.63" r="4.18"/>
<circle cx="1832.57" cy="924.66" r="4.18"/>
<circle cx="1832.57" cy="915.69" r="4.18"/>
<circle cx="1848.71" cy="969.49" r="4.18"/>
<circle cx="1848.71" cy="960.52" r="4.18"/>
<circle cx="1848.71" cy="951.56" r="4.18"/>
<circle cx="1848.71" cy="942.59" r="4.18"/>
<circle cx="1848.71" cy="933.63" r="4.18"/>
<circle cx="1864.86" cy="969.49" r="4.18"/>
<circle cx="1864.86" cy="960.52" r="4.18"/>
<circle cx="1864.86" cy="951.56" r="4.18"/>
</g>
<path d="M1477.42 1005.35v-14.9M1477.42 601.9v10M1558.13 1005.35v-14.9M1558.13 601.9v10M1638.85 1005.35v-14.9M1638.85 601.9v10M1719.57 1005.35v-14.9M1719.57 601.9v10M1800.28 1005.35v-14.9M1800.28 601.9v10M1437.06 1005.35v-7.8M1437.06 601.9v5.3M1517.78 1005.35v-7.8M1517.78 601.9v5.3M1598.49 1005.35v-7.8M1598.49 601.9v5.3M1679.21 1005.35v-7.8M1679.21 601.9v5.3M1759.92 1005.35v-7.8M1759.92 601.9v5.3M1840.64 1005.35v-7.8M1840.64 601.9v5.3M1396.7 960.52h10M1881 960.52h-10M1396.7 870.87h10M1881 870.87h-10M1396.7 781.21h10M1881 781.21h-10M1396.7 691.56h10M1881 691.56h-10M1396.7 915.69h5.3M1881 915.69h-5.3M1396.7 826.04h5.3M1881 826.04h-5.3M1396.7 736.38h5.3M1881 736.38h-5.3M1396.7 646.73h5.3M1881 646.73h-5.3" stroke="#000" stroke-width="1.4" fill="none"/>
<rect x="1396.7" y="601.9" width="484.3" height="403.45" fill="none" stroke="#000" stroke-width="1.5"/>
<text transform="translate(1396.8 1039.55) scale(1 1.03)" text-anchor="middle" font-size="29.5">5</text>
<text transform="translate(1477.52 1039.55) scale(1 1.03)" text-anchor="middle" font-size="29.5">10</text>
<text transform="translate(1558.23 1039.55) scale(1 1.03)" text-anchor="middle" font-size="29.5">15</text>
<text transform="translate(1638.95 1039.55) scale(1 1.03)" text-anchor="middle" font-size="29.5">20</text>
<text transform="translate(1719.67 1039.55) scale(1 1.03)" text-anchor="middle" font-size="29.5">25</text>
<text transform="translate(1800.38 1039.55) scale(1 1.03)" text-anchor="middle" font-size="29.5">30</text>
<text transform="translate(1881.1 1039.55) scale(1 1.03)" text-anchor="middle" font-size="29.5">35</text>
<text transform="translate(1384.3 970.12) scale(1 1.03)" text-anchor="end" font-size="29.5">10</text>
<text transform="translate(1384.3 880.47) scale(1 1.03)" text-anchor="end" font-size="29.5">20</text>
<text transform="translate(1384.3 790.81) scale(1 1.03)" text-anchor="end" font-size="29.5">30</text>
<text transform="translate(1384.3 701.16) scale(1 1.03)" text-anchor="end" font-size="29.5">40</text>
<text transform="translate(1384.3 611.5) scale(1 1.03)" text-anchor="end" font-size="29.5">50</text>
<path d="M360.2 94.1V115" stroke="#000" stroke-width="2.2" stroke-linecap="round" fill="none"/>
<path d="M360.2 125L351.3 107.2L360.2 112.4L369.1 107.2Z" fill="#000" stroke="#000" stroke-width="1.2" stroke-linejoin="round"/>
<text transform="translate(-1.4 31.4) scale(1 1.025)" text-anchor="start" font-size="42" font-weight="bold">a</text>
<text transform="translate(-1.2 362.5) scale(1 1.025)" text-anchor="start" font-size="42" font-weight="bold">b</text>
<text transform="translate(-1 718.4) scale(1 1.025)" text-anchor="start" font-size="42" font-weight="bold">c</text>
<text transform="translate(650.8 31.3) scale(1 1.025)" text-anchor="start" font-size="42" font-weight="bold">d.1</text>
<text transform="translate(1300.8 31.3) scale(1 1.025)" text-anchor="start" font-size="42" font-weight="bold">e.1</text>
<text transform="translate(650.6 579.8) scale(1 1.025)" text-anchor="start" font-size="42" font-weight="bold">d.2</text>
<text transform="translate(1299.9 579.8) scale(1 1.025)" text-anchor="start" font-size="42" font-weight="bold">e.2</text>
<text transform="translate(0 42.4) scale(1 1.04)" font-size="28.95"><tspan x="141.5">for</tspan> <tspan x="184.6" font-family='"Liberation Serif", serif' font-style="italic" font-size="31">λ</tspan> <tspan x="206.9" font-size="29.15">= 580–700 nm,</tspan> <tspan x="417.5" font-family='"Liberation Serif", serif' font-style="italic" font-size="31">θ</tspan> <tspan x="436.5">=</tspan> <tspan x="460.5">0°</tspan> <tspan x="496.5">–</tspan> <tspan x="520">26°</tspan></text>
<text transform="translate(0 41.6) scale(1 1.04)" font-size="28.95"><tspan x="869.6" font-style="italic">T</tspan> <tspan x="894.1">within 0.5% of</tspan> <tspan x="1083.8" font-style="italic">T</tspan><tspan x="1100.9" dy="6.83" font-size="21">max</tspan></text>
<text transform="translate(0 41.6) scale(1 1.04)" font-size="28.95"><tspan x="1517.2" font-style="italic">T</tspan> <tspan x="1541.7">within 1% of</tspan> <tspan x="1707.6" font-style="italic">T</tspan><tspan x="1723.6" dy="6.83" font-size="21">max</tspan></text>
<text transform="translate(26.7 160) rotate(-90) scale(1 1.08)" text-anchor="middle" font-size="28.6">T (%)</text>
<text transform="translate(33 487.8) rotate(-90) scale(1 1.06)" text-anchor="middle" font-size="28.4"><tspan font-style="italic">R</tspan><tspan font-size="21" dy="7.4">opt</tspan><tspan dy="-7.4"> (nm)</tspan></text>
<text transform="translate(24.5 860.5) rotate(-90) scale(1 1.06)" text-anchor="middle" font-size="28.4"><tspan font-style="italic">g</tspan><tspan font-size="21" dy="7.4">opt</tspan><tspan dy="-7.4"> (nm)</tspan></text>
<text transform="translate(358.3 1078.3) scale(1 1.06)" text-anchor="middle" font-size="28.4"><tspan font-style="italic">h</tspan><tspan font-size="21" dy="7.4">opt</tspan><tspan dy="-7.4"> (nm)</tspan></text>
<text transform="translate(690.8 265) rotate(-90) scale(1 1.06)" text-anchor="middle" font-size="28.4"><tspan font-style="italic">g</tspan> (nm)</text>
<text transform="translate(690.8 803) rotate(-90) scale(1 1.06)" text-anchor="middle" font-size="28.4"><tspan font-style="italic">h</tspan> (nm)</text>
<text transform="translate(1004.4 1082) scale(1 1.06)" text-anchor="middle" font-size="28.4"><tspan font-style="italic">R</tspan> (nm)</text>
<text transform="translate(1639 1082) scale(1 1.06)" text-anchor="middle" font-size="28.4"><tspan font-style="italic">R</tspan> (nm)</text>
</svg>
</body>
</html>
